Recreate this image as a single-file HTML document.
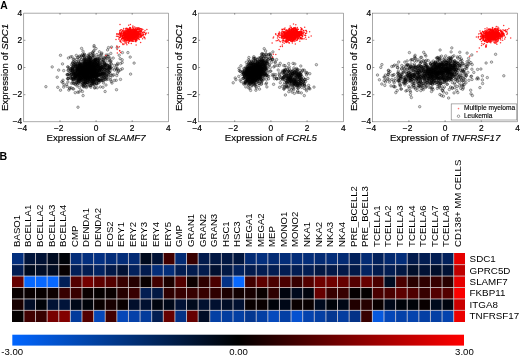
<!DOCTYPE html>
<html><head><meta charset="utf-8"><title>Figure</title><style>html,body{margin:0;padding:0;background:#fff}svg{display:block;opacity:0.999}</style></head><body>
<svg width="520" height="356" viewBox="0 0 520 356" font-family="Liberation Sans, Arial, sans-serif">
<defs><marker id="mo" markerWidth="5" markerHeight="5" refX="2.5" refY="2.5" markerUnits="userSpaceOnUse" overflow="visible"><circle cx="2.5" cy="2.5" r="1.25" fill="#000" fill-opacity="0.16" stroke="#000" stroke-opacity="0.52" stroke-width="0.65"/></marker><marker id="mr" markerWidth="4" markerHeight="4" refX="2" refY="2" markerUnits="userSpaceOnUse" overflow="visible"><circle cx="2" cy="2" r="0.75" fill="#ff0000" fill-opacity="0.8"/></marker><filter id="bl" x="-5%" y="-5%" width="110%" height="110%"><feGaussianBlur stdDeviation="0.55"/></filter></defs>
<rect width="520" height="356" fill="#fff"/>
<path d="M90.4 72.0L81.6 70.1L80.1 70.9L97.4 74.6L82.4 72.1L92.9 69.4L83.0 67.9L92.9 73.3L79.7 77.3L71.9 78.1L79.0 80.7L84.8 79.0L88.0 69.7L74.1 83.6L89.0 71.7L78.8 78.3L79.0 74.3L87.9 62.9L94.1 73.8L85.3 74.1L89.4 70.7L83.7 78.2L84.4 59.2L93.0 66.7L98.6 80.4L84.1 63.5L92.6 72.4L92.1 74.1L92.5 73.4L90.4 61.2L86.4 68.7L81.4 67.1L84.7 73.8L99.8 69.4L77.6 76.3L78.5 61.9L85.9 73.4L98.4 66.1L84.7 71.9L97.3 76.9L84.7 72.7L89.3 68.8L80.5 69.1L85.6 70.0L97.8 66.5L92.7 73.2L93.8 76.0L92.2 72.8L85.2 79.3L68.1 74.8L81.4 70.3L103.7 76.6L80.9 74.0L92.6 71.4L86.4 71.5L94.9 68.7L83.5 76.7L81.9 68.0L84.1 67.3L94.0 66.3L85.1 69.0L75.1 66.1L85.9 78.5L84.7 85.4L85.8 83.0L89.9 78.1L79.2 66.1L103.2 68.3L86.5 70.7L81.5 69.3L89.8 63.5L83.2 69.2L77.6 71.0L93.0 63.7L92.8 65.8L83.4 74.1L86.1 74.3L84.9 72.4L77.3 76.5L91.3 60.0L86.1 78.0L85.2 59.2L83.5 70.5L85.6 83.0L88.9 71.5L88.2 76.6L85.2 73.7L75.9 73.9L91.0 62.3L89.6 69.4L83.3 72.2L89.3 66.8L88.0 72.1L98.0 66.5L86.5 67.4L88.6 81.5L91.8 65.4L95.9 70.3L98.1 69.1L96.3 78.0L88.7 80.5L96.3 70.9L106.2 64.9L72.7 72.7L85.5 63.7L93.9 73.6L67.8 74.3L89.9 69.8L87.7 72.6L75.0 71.6L81.5 69.3L84.6 81.7L90.9 72.6L80.0 74.8L78.5 74.2L84.3 67.8L92.2 70.1L88.3 55.9L91.8 65.9L79.1 67.1L91.3 75.8L88.7 71.8L94.7 76.0L74.2 65.0L72.8 69.4L71.0 87.8L94.6 63.8L77.4 75.0L94.4 65.3L88.4 70.7L93.9 73.2L92.3 68.7L87.3 78.4L92.6 78.1L82.1 77.8L79.9 67.4L105.4 65.7L91.5 75.9L73.3 61.6L89.2 69.6L81.9 67.6L86.2 72.1L95.8 65.5L98.3 75.5L83.6 73.1L90.8 85.7L98.6 68.4L92.1 67.7L87.8 69.2L88.0 72.4L98.6 64.3L84.5 69.8L96.1 79.2L91.1 68.5L79.9 69.9L93.9 74.0L85.3 72.7L88.3 72.7L80.1 79.4L90.5 78.4L88.9 77.1L93.1 61.8L87.1 75.0L82.1 68.3L103.5 74.3L86.1 72.0L86.0 77.9L76.0 75.0L88.2 61.4L103.0 69.4L93.2 71.3L95.7 59.7L77.2 70.6L98.2 75.1L86.6 63.1L81.5 74.5L88.5 68.9L91.4 70.8L87.0 72.7L88.9 69.8L102.8 73.6L91.4 68.0L83.7 81.6L71.0 78.0L96.8 68.4L76.8 67.1L82.5 71.3L105.8 74.0L84.4 67.7L83.1 77.5L80.3 68.9L81.6 67.2L100.2 68.0L90.2 63.8L89.9 67.9L84.6 72.3L73.6 74.3L90.7 66.2L95.9 72.8L75.9 78.6L91.8 71.3L93.5 76.2L81.6 66.5L89.7 78.6L78.3 63.2L98.2 65.3L91.9 62.6L80.0 69.6L98.4 56.5L91.2 60.5L78.4 65.5L93.2 76.1L90.0 81.2L83.2 66.3L83.4 72.6L84.8 69.9L83.0 74.9L75.7 73.2L94.0 73.9L81.9 79.7L79.4 72.0L88.9 64.9L90.0 60.6L88.7 68.3L89.0 77.0L91.7 73.7L81.3 68.3L88.4 71.9L86.8 63.2L77.2 66.5L84.4 64.4L80.3 81.0L83.5 60.7L79.0 75.1L86.1 78.5L80.4 73.6L86.2 65.8L84.1 66.0L71.4 72.7L94.5 59.9L89.4 69.7L89.5 70.4L90.1 57.6L75.2 77.0L87.5 80.7L85.9 63.8L80.2 77.9L76.3 55.4L83.8 65.2L86.1 62.3L77.6 68.5L93.2 80.5L89.5 65.4L72.5 70.6L86.6 73.3L87.5 71.3L83.2 77.2L96.7 75.0L95.7 60.4L84.8 75.2L81.1 72.4L81.5 68.5L90.5 67.5L88.4 69.2L79.2 72.5L83.9 70.9L89.5 69.8L83.0 78.9L78.7 76.9L73.8 66.9L89.9 71.1L85.1 70.8L80.6 70.5L83.8 71.1L81.1 67.2L90.5 70.2L85.1 70.7L80.2 63.3L92.1 69.3L92.2 70.7L84.0 74.1L94.0 68.8L79.6 65.7L98.4 71.5L94.4 66.2L87.8 82.5L71.5 64.8L80.5 64.8L78.8 76.6L91.6 63.0L101.0 74.6L94.7 62.0L79.3 68.9L88.2 76.2L90.9 69.3L87.8 63.4L93.0 73.5L97.9 70.9L88.2 68.1L83.6 66.3L85.2 81.9L90.3 72.3L78.8 79.6L80.3 72.0L76.6 82.8L94.9 67.2L85.8 74.5L74.0 59.1L91.5 73.4L102.4 72.2L95.4 65.7L94.9 71.7L85.9 74.0L105.1 71.7L87.5 71.9L98.0 73.9L97.9 75.5L83.1 76.0L92.7 74.5L83.3 61.0L86.7 77.2L75.8 70.5L96.2 66.8L87.6 67.0L91.4 64.7L87.4 62.4L86.1 76.5L89.8 77.0L83.7 67.1L86.6 69.7L88.4 64.2L94.4 77.0L111.1 64.3L90.2 71.4L94.4 62.2L85.0 76.9L85.1 66.3L72.1 76.2L86.5 65.3L89.3 72.5L89.0 66.7L84.9 65.8L80.3 70.3L93.2 64.8L83.0 74.3L92.1 74.4L74.9 77.1L103.2 80.4L91.9 65.5L104.9 73.0L85.1 71.4L96.9 65.8L88.1 66.0L107.9 65.3L95.4 69.9L83.8 84.3L90.5 73.5L89.3 66.4L83.6 81.6L83.2 74.3L83.7 73.5L86.4 87.5L96.8 72.9L97.2 60.2L74.9 78.7L80.0 76.4L75.9 65.0L80.2 65.0L89.1 69.2L86.7 72.7L82.2 72.4L81.0 80.4L109.3 66.5L98.8 65.8L94.9 79.0L87.8 71.3L87.8 73.0L86.1 73.3L81.4 76.1L97.9 58.2L90.9 74.0L84.4 64.0L93.5 74.9L90.5 70.0L90.9 60.6L85.5 69.2L82.4 57.3L82.2 73.4L95.3 69.2L84.4 58.9L89.9 66.1L89.1 76.4L71.1 70.4L77.2 69.0L88.1 75.8L100.1 73.9L77.7 67.9L79.3 72.7L86.0 79.2L73.0 69.1L90.8 66.9L90.7 69.5L91.5 67.7L96.6 65.5L92.9 70.1L81.1 78.8L88.7 73.2L93.2 83.4L81.1 67.1L79.3 79.9L83.5 69.6L84.8 68.8L86.2 66.0L94.7 74.1L93.2 54.0L81.1 71.3L84.5 63.5L86.2 73.8L78.1 73.9L72.9 67.8L79.6 78.0L88.0 69.8L77.8 79.7L95.6 68.3L82.4 69.1L87.5 66.0L78.3 75.4L96.2 63.7L90.4 63.3L88.7 64.2L103.9 79.1L88.6 65.4L90.2 72.5L90.6 63.0L79.2 80.1L89.3 71.4L96.3 64.7L84.9 63.5L105.8 72.3L93.5 67.6L100.7 75.4L83.8 76.0L95.3 70.7L88.6 74.5L88.1 73.0L80.6 68.6L94.1 73.8L82.8 75.8L84.5 64.4L82.5 67.1L108.3 71.4L95.9 59.3L92.5 67.4L98.9 75.0L89.6 81.5L97.4 75.4L85.0 68.2L94.5 71.7L91.8 72.3L72.5 68.0L96.9 68.1L89.6 70.5L90.0 64.1L84.2 74.5L84.7 60.6L89.5 62.7L91.9 80.9L79.7 68.0L93.0 75.8L90.9 63.3L94.9 70.9L88.0 75.7L84.9 69.8L86.8 74.1L85.0 69.4L93.8 76.7L95.1 72.5L97.5 66.1L93.0 56.1L90.0 65.7L107.5 65.6L73.8 79.3L96.5 69.7L91.2 66.8L94.7 70.5L94.8 74.5L82.8 85.5L90.2 79.6L81.8 69.9L84.2 66.5L74.4 71.8L91.6 72.7L92.0 65.0L93.2 65.4L91.8 73.3L90.9 64.3L86.4 72.0L83.1 68.1L90.4 64.3L85.2 66.2L92.6 70.3L99.7 79.2L101.6 74.1L88.4 63.9L89.7 74.5L89.1 70.9L75.6 67.6L73.2 66.1L85.4 67.0L84.0 74.5L80.5 65.6L74.1 77.9L73.4 79.8L88.6 59.3L82.5 63.6L87.7 68.6L91.9 73.1L97.4 61.9L82.8 67.7L89.4 67.2L91.8 66.4L83.3 55.8L92.9 75.3L81.9 70.9L78.5 68.7L104.8 77.4L86.3 61.6L82.1 74.9L87.6 63.2L91.2 77.5L89.8 65.3L73.7 73.0L71.1 68.7L87.7 65.2L102.6 73.8L86.2 61.3L99.7 69.6L79.1 72.6L77.7 67.2L79.4 56.1L82.0 76.5L88.6 72.9L88.3 69.0L79.6 58.7L83.9 69.1L90.5 71.0L80.4 74.4L94.2 67.7L98.7 80.7L89.1 54.1L106.0 76.6L93.3 67.4L84.1 70.8L84.0 70.8L89.2 65.9L78.8 70.2L82.5 68.9L94.4 75.1L93.4 70.5L90.4 69.3L86.0 71.0L84.8 63.8L94.5 63.8L82.1 73.9L86.6 75.4L92.8 78.4L70.5 69.1L72.4 69.5L95.2 74.4L82.7 63.7L96.7 80.4L89.9 69.4L108.9 72.2L95.0 64.3L94.0 70.9L79.0 71.6L82.6 68.2L88.9 71.8L93.2 55.7L86.9 71.4L97.2 71.7L81.1 71.5L75.4 77.7L91.1 68.3L81.7 75.7L91.9 72.4L84.3 73.7L73.2 78.0L81.4 55.9L88.5 73.6L81.7 70.9L88.2 71.5L76.0 66.3L82.4 69.5L87.6 74.8L97.1 70.1L92.3 76.5L100.9 67.8L93.6 63.0L93.1 74.5L83.9 79.4L83.8 73.1L75.2 78.3L94.2 73.8L92.3 65.4L82.3 69.8L88.7 68.2L102.4 72.7L78.7 67.1L75.4 71.8L91.7 81.5L79.7 65.6L99.5 71.1L82.6 71.2L88.9 73.8L98.9 70.9L101.4 67.8L98.7 65.4L81.0 79.3L87.4 68.3L90.1 65.0L93.8 80.4L92.8 68.1L99.4 69.0L74.1 62.3L82.6 73.6L85.5 77.2L90.5 63.1L96.7 83.2L78.6 70.2L92.3 71.0L90.6 77.3L80.4 71.2L94.3 72.3L87.9 75.6L106.3 79.7L94.4 79.0L87.5 71.1L97.4 69.7L96.1 65.0L82.4 73.0L94.5 70.0L97.3 64.5L102.9 69.5L79.6 66.0L74.1 73.6L89.9 59.9L97.6 65.9L102.4 64.4L86.8 71.1L90.0 71.2L86.0 74.0L84.5 57.3L83.8 67.1L94.7 72.5L93.2 73.7L88.8 83.1L89.9 76.3L72.6 62.8L86.7 76.0L97.1 63.3L80.5 65.7L106.4 68.3L87.2 70.4L87.2 82.7L104.8 58.1L97.5 65.6L92.9 80.4L81.8 77.4L95.4 72.1L92.8 69.9L76.9 71.7L84.2 68.8L74.7 74.8L74.4 68.6L72.1 74.0L91.9 71.3L87.5 55.7L91.5 77.5L85.5 71.4L93.7 60.7L75.0 73.8L91.9 70.1L76.2 76.0L94.6 69.8L89.7 76.5L79.5 62.9L89.8 74.1L72.2 68.3L92.1 74.9L81.2 56.1L92.6 53.4L100.6 69.3L93.7 66.1L87.5 79.4L69.1 68.0L105.3 57.4L90.5 58.4L105.1 67.5L95.1 62.4L82.2 77.3L68.0 78.6L82.5 67.8L87.1 71.8L105.2 64.1L96.1 74.8L83.0 74.5L84.4 62.5L78.8 69.0L99.6 75.1L86.7 76.0L77.2 72.9L92.5 82.2L101.9 59.4L90.0 77.1L92.2 75.3L91.6 70.3L87.4 66.1L75.7 68.5L77.4 69.6L81.7 69.2L91.9 71.9L77.1 76.7L89.2 78.5L101.4 64.1L96.4 77.3L91.6 83.8L67.7 66.9L110.2 60.9L85.1 77.4L88.2 72.6L77.7 77.5L92.0 69.2L94.2 64.7L94.1 56.0L77.3 64.3L91.7 81.9L87.8 77.9L81.5 68.5L83.7 71.6L91.3 76.0L87.6 65.9L86.4 77.0L94.7 74.6L105.5 58.7L87.2 70.9L78.9 73.3L81.6 75.6L91.5 75.6L85.5 72.8L93.8 82.6L102.2 73.4L101.6 70.9L92.1 74.6L92.3 52.6L104.6 69.4L95.3 71.0L89.7 62.1L84.6 66.3L81.4 73.2L88.8 72.4L81.2 64.4L104.9 63.2L89.4 66.0L91.7 73.2L79.2 63.9L111.1 75.4L86.9 84.6L89.4 68.7L86.8 59.9L98.9 74.5L84.9 71.1L86.1 69.2L89.4 59.6L84.1 62.5L90.8 67.0L77.0 85.9L80.8 76.0L88.0 59.1L93.3 81.4L99.3 75.0L84.1 66.7L96.4 75.1L92.7 65.8L88.0 70.5L98.7 80.1L81.0 67.8L91.2 76.0L90.5 67.1L85.7 75.0L72.4 76.9L88.9 65.2L98.3 72.6L91.5 67.5L102.4 60.9L91.8 75.3L84.6 66.3L87.7 70.2L78.6 81.9L84.3 71.5L78.8 79.5L89.0 71.7L87.6 79.5L81.6 77.5L89.7 61.6L93.4 77.2L84.8 72.5L96.5 72.9L73.2 81.3L76.8 73.7L79.1 73.6L84.0 66.8L91.7 71.6L86.1 75.7L97.9 62.7L85.2 74.6L86.2 77.2L86.9 63.9L94.9 75.6L87.5 74.5L78.6 74.6L100.3 80.2L83.3 71.9L85.0 73.8L92.6 68.0L98.8 60.3L96.6 63.9L81.8 63.7L87.5 71.7L73.6 66.4L89.8 65.1L85.0 72.9L90.1 73.6L77.0 75.6L90.7 69.9L83.2 71.6L84.5 75.6L86.8 61.6L100.6 65.1L91.6 75.9L71.0 74.4L80.3 77.2L83.8 71.5L75.2 64.5L81.5 64.4L83.0 73.7L74.7 73.7L84.1 76.7L94.7 69.5L79.1 74.4L87.4 77.6L87.7 86.0L81.4 71.6L96.6 72.2L96.8 72.2L97.0 73.9L93.3 63.9L95.8 63.6L82.9 68.0L92.3 75.0L87.0 80.3L91.8 70.0L78.3 83.1L86.4 65.4L73.6 63.9L87.1 65.5L80.4 61.1L90.0 66.6L86.0 64.0L100.3 81.0L80.4 73.8L80.7 69.8L104.8 69.4L74.3 70.2L100.7 67.8L99.5 69.8L83.7 75.5L73.4 74.8L88.4 63.8L98.9 58.7L90.9 77.0L99.5 62.5L85.6 79.0L91.3 62.1L91.7 78.3L82.0 67.2L82.0 71.1L90.5 69.8L98.1 66.7L84.4 81.0L95.3 67.4L89.4 63.8L90.4 79.1L70.0 71.0L88.3 63.4L78.2 68.9L75.3 75.2L89.3 74.2L83.4 86.1L76.5 74.7L91.0 67.2L93.8 84.9L86.4 76.6L98.5 74.0L93.0 76.5L92.5 78.5L82.9 74.4L98.8 61.5L103.5 76.9L84.8 66.8L84.1 63.7L101.2 68.3L82.0 72.6L89.4 70.2L87.9 78.2L76.9 81.3L85.0 72.6L81.9 65.9L89.9 67.4L76.9 70.9L85.7 78.8L84.7 76.7L99.8 68.2L93.4 61.6L90.4 80.1L97.1 72.6L96.3 74.5L96.8 68.5L93.3 69.5L91.0 70.5L89.5 64.2L95.3 61.2L92.2 65.4L100.6 78.3L78.9 69.2L83.4 74.2L99.2 59.7L86.1 63.1L94.4 71.1L91.8 59.1L93.1 68.6L84.0 76.8L72.4 66.0L94.6 69.3L78.0 69.8L96.6 63.7L102.0 69.5L91.5 76.4L87.1 72.3L88.1 71.6L94.1 65.3L86.1 71.2L84.2 66.7L86.0 73.8L85.3 74.0L98.8 80.2L97.2 65.0L102.4 77.7L89.3 69.1L91.8 70.3L94.5 63.2L91.9 56.9L85.1 64.4L94.2 60.1L94.2 74.1L86.8 61.0L78.0 69.1L88.4 70.1L82.6 71.1L82.0 71.2L100.6 72.5L79.4 81.6L89.9 74.9L83.4 76.0L88.5 78.9L87.9 70.1L88.5 68.4L85.6 81.5L88.8 69.1L100.6 69.1L78.7 75.0L104.4 66.6L77.7 71.9L82.5 73.3L81.8 80.1L75.2 74.8L88.1 64.1L92.3 73.3L89.9 65.7L83.4 68.6L100.3 63.3L83.8 77.3L94.7 68.5L105.3 64.8L85.6 73.9L84.6 79.0L106.6 78.0L75.4 64.7L86.3 75.2L77.5 75.7L89.1 74.2L82.1 69.5L88.4 65.2L77.4 70.0L89.3 77.4L81.0 80.0L89.2 66.1L82.3 66.6L101.3 67.0L78.2 64.9L90.3 79.7L97.8 62.4L90.0 62.5L87.7 72.2L80.5 64.4L101.1 69.7L74.8 73.7L85.8 67.3L83.5 86.7L86.1 68.9L98.6 59.8L85.9 75.6L79.1 74.8L86.6 67.4L97.3 78.4L97.4 68.6L93.9 69.6L94.7 63.0L90.4 58.1L78.5 68.7L90.4 74.5L90.5 61.2L86.2 70.1L77.6 71.9L77.6 65.9L89.1 70.6L79.1 71.9L94.6 84.2L92.7 83.0L88.8 66.8L90.2 80.6L90.0 58.9L94.0 75.8L102.9 75.0L89.5 75.9L96.6 84.1L71.1 68.9L87.1 71.5L94.6 59.5L92.3 72.9L95.0 62.1L96.4 66.8L87.7 73.0L82.7 68.4L84.8 60.5L99.7 67.3L83.2 69.5L90.6 73.7L93.6 67.8L89.2 64.0L79.4 65.4L92.8 67.3L94.2 76.8L73.3 59.3L79.3 66.8L109.2 72.3L86.7 74.2L89.7 73.5L99.6 71.2L94.4 81.1L86.3 77.1L98.1 66.7L79.9 74.4L86.2 73.6L85.1 61.1L94.5 70.3L93.9 69.4L98.2 64.1L95.9 68.0L84.0 55.8L92.4 63.3L81.0 70.0L77.9 80.5L88.7 76.4L91.4 83.4L88.1 68.9L80.4 72.9L80.1 75.9L87.4 70.6L80.7 78.3L85.7 76.6L100.6 62.5L76.7 68.3L71.5 74.2L86.7 64.9L84.8 69.0L97.9 74.6L83.3 74.0L90.7 78.1L76.8 73.6L73.4 74.9L107.1 75.8L90.3 79.4L82.5 66.6L85.8 72.0L98.0 80.5L82.7 82.8L86.2 67.7L94.8 72.8L91.9 71.5L78.4 61.5L109.6 69.4L99.3 68.6L81.6 78.7L81.2 74.0L87.5 63.5L75.6 66.5L88.4 72.3L80.8 73.0L88.9 57.2L78.7 74.7L107.3 70.4L85.3 67.3L93.5 76.6L93.9 80.3L95.1 63.5L96.1 69.7L88.5 59.5L91.2 63.5L85.8 75.7L81.2 69.5L75.5 77.4L107.5 68.6L99.0 70.9L85.8 73.8L82.8 66.5L84.8 76.9L80.3 69.9L88.5 68.2L92.9 65.4L88.0 73.2L83.5 70.2L91.6 75.5L99.6 71.2L78.6 79.5L87.8 73.9L83.2 72.2L93.1 67.3L92.1 81.4L89.1 64.0L87.4 64.4L92.0 64.3L82.6 74.6L86.4 76.0L89.5 70.3L62.5 63.9L76.7 65.2L96.9 73.0L87.2 68.5L86.9 71.8L82.4 72.5L92.2 79.7L94.6 73.9L87.9 72.7L90.8 73.4L93.6 67.2L80.6 72.7L93.9 61.1L96.7 76.9L96.7 66.6L102.0 80.0L93.7 70.5L78.6 68.1L85.4 79.7L88.7 68.3L74.1 73.6L77.7 68.8L99.8 69.4L106.4 57.9L80.3 72.0L69.7 88.7L94.0 74.9L95.0 69.4L93.7 71.8L87.9 60.1L77.6 69.8L103.9 65.8L84.0 63.6L87.7 69.5L87.6 70.2L88.2 67.1L93.8 67.1L86.5 72.5L91.9 75.9L89.2 73.5L77.2 69.1L85.6 63.1L94.2 68.6L75.2 77.7L81.0 71.7L101.6 58.0L92.4 67.0L95.3 66.2L101.5 66.2L84.7 75.0L105.2 75.5L87.7 70.1L100.6 74.8L68.4 58.0L93.5 66.9L105.1 91.5L95.5 77.0L76.8 82.7L103.2 67.4L93.9 76.3L102.1 80.2L89.6 64.4L63.0 80.2L80.6 65.1L68.1 67.0L79.6 79.6L87.7 71.9L87.0 72.0L116.2 80.3L114.3 80.5L91.3 71.7L108.0 54.9L80.8 76.7L58.7 70.1L99.8 55.8L83.8 71.5L85.6 82.7L105.1 72.8L102.1 66.7L117.2 68.3L85.5 75.8L100.4 86.9L105.6 69.6L95.8 75.5L81.0 78.2L91.8 71.3L86.7 79.5L75.1 76.0L89.9 72.1L78.7 67.9L77.9 75.3L80.5 76.6L76.9 80.2L108.5 47.6L98.9 80.1L100.6 76.0L62.9 82.5L107.7 56.6L83.8 55.3L120.5 79.4L93.7 74.1L112.0 83.1L75.4 62.8L107.6 49.9L83.0 51.2L88.1 75.6L74.9 75.4L94.5 62.3L110.7 80.0L69.5 87.9L97.3 64.7L120.6 69.7L101.8 71.4L83.5 64.1L94.6 64.6L92.2 82.9L95.8 79.3L75.9 75.6L101.1 80.6L96.0 77.4L84.3 77.0L95.8 59.3L87.3 80.4L79.9 81.4L95.1 68.3L104.4 69.1L83.6 59.7L75.5 83.5L72.6 82.8L81.4 67.9L71.9 56.7L97.4 81.2L78.9 83.2L116.5 89.7L74.2 72.6L75.6 70.1L71.6 83.4L85.7 82.9L89.2 61.6L96.5 83.2L88.9 75.1L99.2 62.6L107.9 79.2L93.6 51.4L109.2 59.2L80.2 71.2L109.4 64.9L84.9 66.8L108.1 74.8L72.2 70.7L91.8 78.0L86.4 73.4L90.4 85.7L91.8 73.2L104.3 62.1L94.5 74.3L97.0 83.8L89.8 67.9L81.2 65.9L117.3 73.2L86.0 69.8L61.8 81.8L97.3 59.7L112.8 75.6L57.8 87.3L79.4 72.4L67.9 82.0L84.2 86.8L99.4 51.8L70.5 78.1L88.2 71.7L90.0 55.9L80.5 72.4L80.3 66.7L80.8 69.7L103.0 59.6L68.8 90.1L87.6 64.3L76.0 73.7L108.6 56.6L112.4 68.7L87.4 77.1L60.5 55.3L77.6 71.7L107.6 69.4L108.9 67.5L110.1 68.2L101.6 76.7L119.0 70.7L86.1 74.0L72.3 71.3L91.7 64.3L94.1 45.6L78.9 81.1L103.8 60.6L120.5 63.6L82.4 76.0L91.6 61.3L102.9 62.1L104.1 73.6L93.3 81.3L72.7 88.6L75.2 92.7L92.9 83.7L107.5 60.8L92.6 84.8L83.0 85.0L87.9 69.6L97.2 87.8L68.3 78.7L104.4 75.3L122.3 68.8L87.8 77.4L109.7 67.0L75.2 84.5L90.0 57.9L86.1 74.2L110.3 77.7L109.8 66.4L92.4 67.3L83.8 73.6L96.3 79.7L122.2 59.8L108.4 69.1L104.1 77.9L106.5 64.2L95.2 76.6L87.5 76.3L104.4 63.9L73.6 89.0L68.3 70.0L79.3 87.4L66.5 84.5L96.8 71.1L84.4 75.1L85.5 61.2L108.2 73.4L77.5 72.0L86.0 86.3L75.5 75.5L79.0 92.1L91.3 74.7L116.6 65.1L81.5 82.4L95.0 60.3L73.2 71.4L102.2 66.2L84.0 83.0L95.6 60.4L80.8 90.1L134.1 63.1L105.5 65.2L85.6 76.6L99.7 65.3L104.3 64.9L81.6 48.4L87.8 82.7L107.4 67.3L117.4 64.8L95.1 60.1L102.8 73.7L116.7 70.0L94.4 72.3L82.5 83.5L77.3 76.9L106.0 85.0L102.9 57.2L73.5 79.6L85.5 79.4L101.3 73.2L77.8 75.7L97.3 71.9L83.1 72.9L90.6 53.7L88.9 73.0L66.9 74.6L89.5 67.0L109.7 68.2L111.5 47.1L110.8 53.4L109.1 72.2L92.7 68.1L72.4 63.4L81.6 67.7L94.6 62.2L93.4 75.5L93.7 71.0L87.0 69.9L103.5 72.8L94.6 88.1L89.0 56.3L130.2 57.1L95.0 87.4L78.0 107.2L63.7 70.6L82.4 79.2L93.9 79.9L89.9 84.6L88.6 62.5L108.3 66.0L99.3 81.6L75.5 77.1L111.1 61.0L106.2 70.4L96.1 76.7L85.1 82.8L80.3 78.4L85.3 81.0L106.3 75.7L78.6 68.9L57.2 77.2L90.5 74.5L87.5 74.2L67.6 75.0L107.2 70.2L73.2 78.7L86.8 61.5L98.8 70.5L111.3 81.5L89.8 85.6L104.2 72.4L83.6 76.8L103.5 82.9L103.4 80.8L85.8 70.9L78.3 57.1L81.5 70.9L91.7 73.6L72.7 70.5L100.9 55.0L79.2 68.3L94.9 83.1L94.0 50.6L98.8 82.8L90.3 76.2L130.6 74.1L110.0 58.2L94.4 72.7L84.5 69.1L120.1 58.7L110.8 74.0L99.7 68.3L105.4 79.4L84.2 54.1L116.7 75.5L84.6 69.1L94.1 82.2L85.2 83.6L110.3 67.5L88.5 65.6L84.6 75.8L80.1 77.2L90.8 87.2L106.2 55.0L111.3 63.7L96.7 73.9L88.1 58.6L117.2 47.6L63.7 87.1L87.4 66.2L77.8 92.2L92.3 73.2L84.1 74.1L86.9 78.8L96.1 76.2L101.3 67.6L101.9 78.3L73.7 83.2L101.6 54.1L97.8 62.6L90.6 69.4L94.0 76.4L77.6 57.6L119.2 55.2L94.0 81.5L94.1 46.9L82.4 54.4L85.0 74.5L81.9 70.2L74.6 76.5L89.1 71.1L69.9 75.1L108.8 68.7L92.3 77.9L103.3 75.2L92.4 66.5L79.8 78.2L67.1 86.3L45.9 86.7L89.4 78.2L127.9 52.6L76.7 59.3L96.0 48.6L90.2 64.6L122.4 52.6L91.7 64.2L98.9 79.8L75.7 73.1L77.8 68.5L78.7 79.1L118.4 71.3L70.6 75.8L93.9 75.0L91.6 71.3L101.1 73.7L63.9 84.8L108.5 76.0L96.1 61.3L84.3 78.1L93.6 73.7L96.8 54.6L70.5 56.9L102.4 66.9L82.9 79.1L115.7 68.1L88.5 69.6L86.4 63.7L77.7 76.0L93.5 73.2L79.0 68.8L88.3 68.6L105.8 78.7L99.2 59.0L75.7 63.5L85.5 65.7L69.0 73.7L100.9 68.3L97.3 79.0L79.2 67.6L84.5 54.4L97.1 70.6L99.9 74.5L86.8 74.1L67.5 78.7L87.0 76.6L110.1 62.0L96.0 58.8L81.0 59.6L77.3 70.7L87.8 71.5L77.7 69.5L97.5 62.9L60.5 90.2L100.0 74.3L101.8 53.0L89.3 69.7L52.2 66.9L95.8 57.8L81.7 72.9L86.4 74.8L68.3 78.2L79.3 65.1L77.9 74.4L76.0 61.5L86.4 75.5L105.0 67.7L104.2 63.2L103.0 87.2L87.4 67.0L96.6 79.0L81.3 84.9L114.6 70.1L85.5 64.4L76.3 78.0L111.3 67.5L104.4 66.2L113.2 58.1L85.2 76.8L92.9 80.9L114.4 65.5L70.8 72.3L89.4 59.8L85.7 58.6L89.3 77.8L87.7 82.1L113.6 74.7L89.3 73.5L95.9 73.6L77.3 84.2L92.5 57.7L72.3 78.9L117.7 63.3L84.5 75.4L82.4 91.5L88.1 80.3L76.4 81.0L83.9 82.9L117.1 69.1L106.6 74.1L68.1 70.5L95.9 80.3L98.3 75.2L72.1 79.3L88.9 77.4L122.2 62.5L103.3 60.9L96.5 77.5L86.1 57.8L110.2 70.9L99.7 74.5L93.7 64.6L83.1 95.6L92.1 70.9L94.4 72.0L89.4 62.0" fill="none" stroke="none" filter="url(#bl)" marker-start="url(#mo)" marker-mid="url(#mo)" marker-end="url(#mo)"/>
<path d="M133.6 34.6L130.8 34.5L130.5 31.7L130.8 34.3L132.6 37.7L136.8 36.7L130.9 37.2L136.2 32.7L130.6 40.6L122.1 37.1L130.1 31.6L131.4 36.7L120.9 41.0L130.4 32.3L136.7 33.6L125.7 28.5L135.7 33.7L127.4 35.5L136.7 32.0L129.8 33.7L123.7 33.5L128.4 34.5L136.9 33.7L130.4 36.3L131.6 37.4L120.0 30.8L132.5 33.2L130.5 30.9L128.6 35.2L132.0 34.2L135.3 31.5L134.0 32.3L128.8 31.9L129.7 31.9L135.0 31.8L131.9 34.0L129.3 32.3L141.2 31.1L137.2 29.3L142.7 35.0L137.6 27.8L137.6 32.7L136.2 39.3L131.9 32.5L130.7 31.9L132.9 34.3L132.5 33.3L120.5 36.5L130.8 36.9L133.0 29.6L138.1 35.9L132.1 35.9L123.9 44.4L128.1 33.3L137.7 35.1L126.5 30.8L138.0 38.1L123.8 31.8L135.7 40.7L123.6 37.5L125.1 36.5L133.6 35.6L121.3 32.8L143.5 34.5L122.2 38.4L138.1 32.9L131.7 35.0L133.9 35.1L132.9 33.3L135.6 34.5L130.0 30.9L129.2 35.7L127.6 34.4L124.6 34.9L119.7 33.5L131.8 36.0L125.7 34.6L133.5 39.0L140.1 31.3L125.8 33.6L136.3 30.1L133.3 33.0L129.9 37.7L136.9 40.0L138.2 38.7L128.6 35.3L125.7 35.1L133.8 33.0L132.2 32.6L130.7 38.1L130.9 34.7L131.4 31.8L122.5 38.3L135.9 40.8L132.3 35.9L141.9 31.0L128.9 37.8L134.2 37.1L129.0 40.3L130.0 28.8L130.1 33.6L133.3 38.0L130.6 33.6L135.9 32.4L123.0 33.5L140.6 35.4L138.0 29.5L126.8 33.7L137.2 37.0L130.4 34.7L135.3 33.2L127.3 35.1L139.3 39.5L132.1 34.0L132.9 35.7L133.6 31.8L131.1 34.4L136.9 35.3L131.5 38.0L138.0 34.0L124.4 36.0L123.5 37.3L134.5 38.4L132.1 29.9L128.3 33.2L127.3 35.9L131.9 34.2L126.8 34.5L128.2 35.1L135.4 34.5L134.6 30.6L142.3 32.5L118.9 39.2L137.0 33.3L124.4 37.1L127.6 35.4L128.7 25.3L131.3 36.5L133.0 33.1L127.8 33.2L132.2 39.2L128.6 36.5L134.5 38.7L135.0 36.1L133.1 39.0L130.6 34.6L137.7 35.1L134.3 31.0L144.7 32.3L140.3 33.8L127.4 37.8L131.4 37.5L119.6 34.9L126.9 40.2L135.3 30.2L132.4 35.3L130.9 38.9L126.9 35.9L129.4 37.4L129.2 37.6L124.4 32.9L125.5 34.6L131.3 43.5L127.0 36.8L130.9 35.8L139.0 34.4L125.6 31.7L135.5 36.6L124.6 39.4L120.0 37.6L134.3 30.8L124.0 41.3L123.2 37.8L123.7 38.0L138.6 31.2L123.3 30.1L121.0 35.3L132.9 36.0L133.7 36.8L135.9 41.8L130.1 35.2L116.5 36.3L132.7 32.6L138.2 34.9L138.8 28.1L129.5 39.1L130.0 32.0L127.9 34.4L136.4 35.5L129.2 32.3L136.9 36.9L126.2 39.1L125.0 35.7L124.0 31.1L126.3 33.6L136.7 35.6L125.5 31.3L120.5 30.1L129.1 34.7L125.7 36.2L132.7 37.8L127.2 39.3L130.2 39.6L126.6 39.3L128.7 40.6L131.7 30.9L135.1 33.5L136.6 40.8L128.8 34.0L136.0 31.7L136.5 36.6L131.9 36.8L121.1 42.5L125.8 33.0L143.7 37.1L128.7 37.0L127.4 32.1L134.4 37.4L145.0 30.4L135.4 32.7L131.6 39.1L120.5 34.2L128.1 39.4L133.9 35.9L134.7 37.5L128.4 34.8L129.8 36.8L124.0 36.1L146.2 32.9L130.0 32.0L132.9 35.1L133.6 32.0L134.2 36.0L134.1 32.2L136.1 38.9L128.7 37.7L128.6 34.3L123.3 33.5L134.2 34.5L135.5 28.2L126.8 31.5L135.4 40.3L122.8 36.7L130.2 34.9L126.9 34.2L137.9 29.5L134.4 35.5L120.7 34.6L135.3 39.7L129.4 33.5L133.1 38.3L136.8 37.3L128.7 32.8L126.6 38.4L129.0 33.6L133.9 34.6L119.6 37.2L126.9 37.3L133.1 39.8L129.5 31.4L118.3 34.4L127.3 35.7L134.4 34.5L128.8 38.0L127.4 39.0L141.7 35.3L141.6 36.5L125.3 37.0L128.3 31.8L125.1 38.1L123.5 35.6L130.4 33.6L139.5 35.1L130.7 32.9L133.1 34.7L124.0 32.2L125.2 32.3L133.5 35.2L129.7 36.2L131.4 29.4L133.3 37.3L125.9 30.3L128.9 31.4L133.9 35.6L134.8 34.3L122.9 40.7L123.8 40.0L131.1 32.1L127.3 34.9L139.2 31.5L132.9 26.0L131.8 34.0L137.7 34.6L136.4 30.2L131.6 32.9L135.3 35.3L125.5 39.4L139.9 31.2L137.6 34.5L127.3 38.5L127.3 38.0L121.4 33.1L133.7 34.8L135.1 33.1L126.9 40.6L128.0 39.9L137.9 38.8L119.9 37.6L130.6 37.1L128.2 42.4L127.9 28.6L133.0 34.3L128.6 38.1L129.6 32.1L129.5 34.1L132.4 33.5L128.7 30.7L127.5 36.6L142.9 29.4L128.3 38.5L143.0 35.3L127.6 39.2L133.1 33.6L124.6 36.6L132.3 36.3L121.0 34.1L133.4 38.7L134.4 32.1L133.6 31.3L128.7 34.5L126.9 34.3L135.9 34.6L120.3 41.6L132.0 31.1L132.9 37.0L137.2 31.5L123.7 32.3L129.3 31.9L136.2 32.9L134.3 33.4L125.6 32.8L134.5 29.8L134.9 37.1L133.9 38.8L130.6 34.0L131.3 33.0L132.6 34.4L138.5 32.7L136.1 35.0L131.2 34.2L141.7 37.0L131.9 33.1L127.9 32.8L123.5 35.2L132.5 37.8L136.6 34.9L129.3 34.6L131.2 35.3L127.4 35.1L129.0 34.4L135.2 37.0L127.8 34.3L132.7 35.7L120.0 40.2L131.8 33.8L136.9 32.9L120.3 34.7L126.9 34.0L129.1 32.3L132.4 35.8L129.2 32.4L128.3 33.4L140.0 28.6L116.9 34.3L133.8 36.8L130.9 38.1L127.9 37.4L124.1 32.3L141.3 31.2L136.6 37.9L134.5 34.6L127.6 40.7L122.7 30.5L127.1 34.1L132.6 38.2L127.7 34.5L123.7 28.5L126.6 34.6L124.6 40.9L137.5 34.3L133.5 31.9L130.3 29.4L122.0 34.8L132.2 32.5L128.2 39.0L128.2 33.3L127.7 30.6L125.7 38.9L131.5 37.4L129.1 38.2L125.6 35.0L126.1 36.6L136.2 27.7L130.0 30.7L127.8 33.5L120.9 36.4L125.6 41.1L126.7 36.8L131.7 34.6L126.9 30.6L140.7 32.1L133.2 30.5L132.6 32.9L132.2 32.4L126.2 37.4L132.6 39.0L128.2 32.8L132.4 30.9L144.4 37.3L138.9 34.3L131.0 35.1L130.4 32.7L135.2 37.8L134.7 27.0L143.6 32.1L122.7 35.5L135.3 33.7L124.8 32.6L134.7 31.4L128.2 32.0L124.1 37.8L138.1 31.7L120.7 35.4L126.5 28.3L135.2 30.8L133.9 33.9L128.5 30.6L136.6 35.1L138.7 31.2L132.8 33.0L137.1 34.4L125.8 36.8L127.0 34.2L135.0 38.8L125.6 35.7L128.5 42.0L142.6 38.7L134.2 30.6L128.1 35.7L129.3 32.8L132.0 33.3L133.2 41.3L131.2 30.4L133.3 34.7L134.8 35.4L125.4 37.2L140.6 42.4L136.7 39.7L139.5 30.0L129.9 41.3L125.9 34.7L134.1 31.6L141.2 36.0L140.0 36.0L128.2 39.9L138.3 36.0L130.4 36.1L127.4 38.1L138.4 34.5L132.1 37.6L127.1 30.0L134.0 33.9L124.8 38.6L137.0 36.8L128.3 34.0L131.8 34.5L123.2 34.2L138.5 32.9L129.6 33.0L133.2 36.4L136.0 39.4L132.1 36.6L130.1 38.5L134.8 37.1L135.8 31.4L133.0 33.0L137.0 33.1L140.7 33.9L133.1 32.5L130.5 35.7L126.6 35.5L127.4 33.5L132.0 35.7L130.1 36.6L127.7 32.3L127.3 37.2L138.1 33.3L130.4 31.6L133.6 35.0L128.1 37.3L129.8 29.8L122.6 35.2L131.2 38.1L128.3 35.5L130.8 36.7L131.6 35.4L127.7 31.3L131.6 40.2L138.5 38.1L134.7 32.2L130.0 37.2L130.9 37.5L140.6 37.0L133.9 29.6L136.7 29.5L124.6 37.3L132.4 36.6L130.6 33.0L129.9 32.1L124.6 35.6L129.7 35.6L131.0 38.6L128.9 34.9L132.9 27.6L137.6 36.1L132.5 40.9L137.5 38.2L136.6 34.0L128.2 32.2L125.5 32.7L128.9 37.1L126.2 37.9L132.5 29.7L126.9 35.4L126.2 33.5L138.6 33.3L137.4 32.9L133.0 30.1L129.7 38.0L133.1 38.4L130.4 33.4L132.6 40.8L132.4 33.0L128.2 32.0L137.4 31.6L134.5 33.5L128.3 33.5L134.1 33.6L139.4 37.3L128.5 35.9L141.0 35.1L129.2 30.5L124.8 34.1L140.9 32.7L128.3 34.5L129.5 36.2L120.1 33.2L133.2 37.6L121.3 39.4L122.5 31.1L135.9 32.8L132.5 33.0L127.1 29.8L128.3 35.8L125.8 37.3L130.3 28.0L136.3 35.2L132.6 38.0L141.0 29.0L136.2 35.4L134.7 37.2L136.8 33.0L117.8 36.2L129.5 40.3L133.1 38.3L127.6 36.7L131.3 35.2L136.5 38.5L130.2 39.7L138.0 34.1L134.7 33.2L125.7 35.6L130.3 35.1L129.4 41.4L130.7 38.1L137.8 33.2L132.6 32.7L128.7 43.2L129.1 29.2L124.9 32.0L132.8 39.2L136.3 31.3L127.3 38.4L132.4 33.8L141.0 33.5L119.9 30.9L129.5 29.5L135.2 36.5L141.8 29.1L130.2 27.7L129.4 34.9L138.8 28.1L133.5 34.9L141.7 29.2L127.0 38.1L130.3 33.9L126.2 36.0L122.6 38.0L135.2 35.4L145.8 33.7L125.7 35.6L135.2 32.8L142.3 32.9L127.6 33.7L134.2 31.2L122.1 38.8L129.6 40.4L140.8 30.4L130.8 34.4L134.8 35.0L124.7 31.1L134.7 39.4L123.8 35.0L127.5 35.4L119.0 38.0L131.1 41.0L135.3 36.1L131.0 33.9L132.9 28.9L137.5 34.7L131.8 38.9L127.5 33.9L130.3 29.0L130.5 34.2L138.6 38.4L135.1 35.0L132.7 32.1L145.4 34.8L139.1 28.5L135.0 35.6L135.9 30.8L133.2 33.7L140.4 28.7L128.5 33.9L125.1 37.2L131.2 32.6L129.4 36.2L131.8 36.4L126.3 33.2L128.7 29.5L139.7 33.4L122.9 38.5L137.8 28.7L130.1 39.1L128.6 39.0L138.6 33.5L135.3 37.4L134.6 37.3L131.0 35.1L128.0 37.3L140.1 36.8L130.5 30.2L127.7 38.0L127.9 39.6L126.5 37.4L126.4 34.2L132.3 33.6L137.0 33.6L120.0 24.6L127.5 35.7L135.2 30.4L141.1 34.9L131.0 38.9L121.7 33.9L135.0 35.7L140.1 37.1L128.1 33.7L129.1 34.6L133.8 33.1L139.0 32.8L121.7 33.2L134.2 35.2L121.6 31.7L139.8 34.0L128.4 31.7L134.8 31.9L129.6 27.6L129.2 35.9L131.6 31.4L129.2 39.0L132.0 39.1L137.0 37.6L139.2 35.0L135.7 32.0L127.4 36.7L136.1 31.0L144.6 37.6L126.6 34.0L126.4 36.9L138.6 34.6L129.3 37.9L136.9 38.0L136.3 30.8L130.5 38.9L137.7 35.0L130.0 39.1L135.1 40.9L137.3 31.9L128.1 39.5L134.3 31.5L134.1 35.9L128.3 35.1L124.3 34.2L134.5 34.4L133.4 38.7L135.1 30.7L138.3 29.8L130.0 35.7L127.8 34.3L125.4 37.8L132.8 35.3L120.1 34.8L136.6 34.6L135.0 33.9L127.0 28.6L139.5 29.4L129.9 37.5L132.7 36.1L129.6 32.1L137.5 29.0L131.2 30.1L127.4 31.9L126.8 32.6L132.1 37.4L126.7 33.8L122.9 43.6L130.8 31.6L138.1 33.8L118.1 33.8L133.9 29.6L123.9 34.3L128.9 34.7L136.5 35.2L127.1 35.5L121.9 38.4L144.3 32.5L129.2 34.2L131.9 37.4L124.2 38.9L127.8 36.7L135.5 29.1L145.5 33.8L129.4 36.5L127.3 36.2L130.6 28.0L132.5 35.0L137.8 35.5L127.0 34.2L132.1 36.9L129.8 40.7L133.3 35.1L135.4 33.3L135.7 36.2L120.6 35.3L124.7 36.4L125.0 34.0L121.5 29.8L131.9 33.8L136.1 44.9L138.4 32.9L128.5 37.4L123.3 32.8L131.3 30.2L121.2 36.0L134.2 29.3L132.4 35.7L131.1 36.6L124.3 34.1L123.8 34.9L135.4 34.2L126.9 37.2L116.0 39.6L132.5 30.7L127.1 36.0L131.6 33.3L125.6 33.8L132.0 33.2L125.5 33.8L148.4 33.1L135.4 34.4L128.8 32.5L127.9 36.1L128.5 29.8L133.8 33.1L122.3 36.0L141.2 30.9L133.2 34.6L124.8 35.0L131.2 31.9L128.6 35.2L129.1 34.5L133.4 35.7L132.1 37.6L135.8 29.4L132.3 34.6L131.7 34.6L130.8 34.7L133.9 31.0L133.2 30.9L142.5 35.2L126.0 36.7L134.0 32.8L136.4 33.2L143.2 33.0L133.7 32.4L127.5 38.5L123.3 38.8L145.0 38.8L123.0 37.3L135.4 36.1L134.9 29.4L129.0 29.6L135.2 41.3L127.0 37.1L130.1 30.0L130.8 31.1L132.0 37.0L129.1 37.3L123.2 33.8L129.8 33.2L128.4 36.4L126.6 36.8L129.0 38.4L129.9 33.8L135.7 34.9L132.8 32.0L134.2 32.6L122.5 36.0L139.2 32.2L125.9 37.1L124.3 34.6L129.1 36.2L134.0 34.9L129.9 33.4L129.1 36.3L130.1 33.8L140.5 34.8L135.4 34.3L132.7 35.2L134.6 31.7L131.7 39.9L132.3 38.1L122.6 38.5L132.8 34.0L132.0 34.7L122.4 36.3L125.0 32.8L133.7 28.6L126.0 33.0L134.3 31.3L129.4 36.9L118.1 36.4L131.9 33.9L124.6 32.9L126.2 32.1L124.8 40.4L134.7 36.8L128.4 30.8L128.8 38.7L131.0 31.5L133.8 34.4L131.7 40.5L126.3 34.9L129.2 38.4L135.7 35.5L129.4 35.0L127.8 29.9L125.0 38.7L132.0 29.0L130.7 30.4L123.2 38.6L132.2 34.2L136.7 36.4L131.8 31.8L133.5 34.8L135.1 38.1L126.2 43.6L133.5 32.3L137.4 31.1L125.4 39.0L131.3 38.3L128.1 35.3L127.9 31.2L126.6 31.6L129.2 39.2L128.8 33.8L136.6 29.0L130.0 33.9L135.5 33.4L129.7 36.2L133.3 41.0L125.2 39.9L143.6 34.5L134.5 32.1L135.3 32.7L132.9 27.1L125.4 30.0L135.3 31.5L135.1 31.8L129.5 40.4L138.4 36.6L139.8 34.8L137.9 37.6L129.6 33.4L138.5 34.6L131.2 35.5L133.5 31.5L125.5 34.1L129.3 28.8L122.3 38.4L129.9 31.3L134.6 32.6L131.6 36.9L134.3 39.0L136.5 39.8L116.9 33.7L124.1 35.7L124.0 32.6L124.4 33.6L135.1 32.3L135.3 37.5L136.4 32.0L127.3 40.2L119.8 33.1L133.6 35.6L130.0 31.9L134.5 37.5L132.0 41.3L128.7 31.7L128.3 33.0L127.4 33.5L131.3 37.4L132.3 34.7L122.2 31.9L129.8 37.6L135.1 34.4L123.2 35.8L132.3 37.0L126.0 35.3L131.1 34.5L122.3 37.7L120.4 33.6L129.5 32.4L132.8 37.1L133.6 37.1L128.3 35.5L126.9 33.3L146.9 29.6L140.2 31.8L135.5 33.3L126.1 41.7L130.1 35.3L140.0 30.3L131.5 36.4L130.4 24.6L135.5 39.5L136.4 34.6L133.1 34.5L135.7 31.8L135.4 38.1L135.8 34.8L125.9 34.6L132.7 34.3L127.1 29.3L133.6 32.6L128.5 38.6L129.8 34.6L132.7 32.6L124.1 33.0L131.7 34.0L120.1 41.3L128.6 32.6L129.3 33.2L129.1 32.9L124.5 37.3L130.0 35.3L133.1 34.3L135.9 31.1L119.7 32.3L125.6 39.4L124.0 39.0L128.8 29.5L135.5 30.9L129.7 35.7L135.0 32.4L132.0 31.2L126.4 40.5L134.1 35.1L138.7 36.4L130.8 35.6L111.4 48.0L105.9 55.6L119.4 46.7L117.3 52.9L124.8 43.1L116.8 45.9L117.1 49.6L126.0 42.5L117.2 47.2L119.8 51.0L122.8 44.6L120.7 52.4L119.6 50.6L126.9 44.7" fill="none" stroke="none" filter="url(#bl)" marker-start="url(#mr)" marker-mid="url(#mr)" marker-end="url(#mr)"/>
<rect x="23.8" y="13.1" width="144.6" height="108.75" fill="none" stroke="#444" stroke-width="0.45"/>
<path d="M60.0 121.85v-1.6M60.0 13.1v1.6M23.8 94.7h1.6M168.4 94.7h-1.6M96.1 121.85v-1.6M96.1 13.1v1.6M23.8 67.5h1.6M168.4 67.5h-1.6M132.2 121.85v-1.6M132.2 13.1v1.6M23.8 40.3h1.6M168.4 40.3h-1.6" stroke="#333" stroke-width="0.5" fill="none"/>
<g font-size="8.4" fill="#000" stroke="#000" stroke-width="0.18">
<text x="22.2" y="124.4" text-anchor="end">−4</text>
<text x="22.5" y="131.4" text-anchor="middle">−4</text>
<text x="22.2" y="97.3" text-anchor="end">−2</text>
<text x="58.7" y="131.4" text-anchor="middle">−2</text>
<text x="22.2" y="70.1" text-anchor="end">0</text>
<text x="96.1" y="131.4" text-anchor="middle">0</text>
<text x="22.2" y="42.9" text-anchor="end">2</text>
<text x="132.2" y="131.4" text-anchor="middle">2</text>
<text x="22.2" y="15.7" text-anchor="end">4</text>
<text x="168.4" y="131.4" text-anchor="middle">4</text>
</g>
<text x="96.1" y="140.6" font-size="9.7" text-anchor="middle" stroke="#000" stroke-width="0.15">Expression of <tspan font-style="italic">SLAMF7</tspan></text>
<text transform="translate(7.7 67.5) rotate(-90)" font-size="9.7" text-anchor="middle" stroke="#000" stroke-width="0.15">Expression of <tspan font-style="italic">SDC1</tspan></text>
<path d="M260.1 67.5L247.6 75.1L252.0 72.1L250.6 63.0L249.5 81.4L254.7 72.7L264.8 70.9L251.0 73.8L251.9 81.6L254.5 68.2L256.4 66.8L258.4 65.5L249.2 77.2L243.3 78.5L258.5 72.2L257.5 62.9L248.6 72.7L257.7 68.1L256.1 76.2L246.7 68.1L256.1 69.1L251.4 74.2L264.3 65.5L252.3 62.5L256.9 76.7L248.5 77.9L259.0 83.3L258.1 67.8L252.6 71.2L256.1 75.2L258.3 77.3L249.2 74.2L255.9 66.1L253.2 69.5L252.3 84.3L256.4 80.3L242.7 78.5L256.6 71.5L248.8 70.9L249.1 66.8L249.6 74.2L257.2 75.3L255.4 76.3L247.7 67.6L250.1 78.0L254.3 75.9L253.7 82.9L254.7 68.8L251.5 79.5L255.6 75.8L257.2 73.8L259.8 76.2L245.1 83.0L248.2 68.8L250.0 67.8L250.1 71.3L254.0 75.0L252.2 72.8L258.2 62.0L256.4 78.3L261.1 69.8L253.2 62.9L261.2 68.5L255.2 72.9L245.8 86.9L249.4 62.1L254.4 75.6L262.5 71.4L250.9 81.4L249.8 67.1L262.5 74.7L259.0 66.7L248.6 85.4L253.4 70.4L267.8 76.0L249.3 72.8L253.1 71.1L253.1 74.1L256.6 69.1L251.2 78.4L252.9 69.8L259.7 67.7L253.6 77.8L264.8 64.4L258.0 73.8L246.3 74.6L256.2 70.1L254.9 70.1L252.4 70.5L258.7 71.1L257.6 73.7L247.2 80.6L264.7 67.2L254.1 71.3L253.3 79.3L248.9 67.4L257.3 70.4L249.8 69.4L248.3 68.5L257.5 65.4L257.9 79.7L253.3 66.3L253.7 60.8L260.0 72.2L254.3 84.8L253.9 72.9L253.5 78.3L247.6 77.2L247.7 73.7L251.0 63.6L251.2 76.1L257.6 73.4L254.2 68.3L253.5 74.6L258.8 69.3L243.8 73.2L262.4 63.0L256.1 71.7L248.6 74.2L252.4 74.1L246.3 74.3L256.1 74.7L253.2 75.1L249.2 82.7L248.3 72.1L252.7 81.6L254.7 77.1L256.1 75.3L246.6 72.9L252.4 72.7L253.3 69.0L257.2 75.4L259.7 67.6L258.1 68.0L259.5 69.7L255.1 70.7L265.2 74.3L253.0 72.3L253.2 74.4L249.4 70.3L251.7 82.7L252.2 80.8L259.5 73.1L258.9 64.8L247.7 74.2L252.8 76.6L250.5 82.9L257.0 73.3L253.9 74.4L250.6 75.8L251.3 81.5L257.7 65.2L250.3 69.9L253.3 64.8L256.1 68.8L256.9 78.4L254.9 72.7L254.8 70.4L255.5 75.0L253.6 74.7L246.1 74.5L250.6 75.5L259.4 73.7L251.5 81.1L245.2 82.5L243.0 73.0L251.3 82.0L253.7 72.1L262.3 78.7L249.9 72.6L260.0 65.0L258.7 75.6L257.3 72.5L249.9 70.5L256.6 68.0L248.7 76.9L254.2 67.6L257.1 73.0L247.4 70.5L259.5 70.4L263.0 69.9L258.3 71.6L255.7 64.5L265.2 65.8L263.8 70.6L251.7 67.6L257.7 67.3L255.5 70.8L259.1 66.5L254.9 76.5L252.2 68.3L251.5 74.4L254.5 76.0L264.5 69.5L260.9 67.7L262.2 68.3L256.5 75.2L254.1 70.9L250.9 74.4L248.0 72.8L255.0 70.0L255.8 72.4L252.8 68.5L246.6 71.6L241.1 81.7L248.7 63.3L261.6 71.7L260.6 76.5L261.8 64.4L261.3 61.5L255.1 76.7L247.4 73.6L262.1 81.2L253.0 75.3L253.5 76.0L251.8 73.4L245.5 77.2L254.1 76.6L262.8 63.4L259.8 64.1L248.0 71.7L244.5 70.5L261.0 75.6L259.9 72.0L247.3 73.1L251.5 74.5L265.4 68.5L251.2 75.9L252.4 72.9L252.3 78.8L256.6 71.1L251.4 78.4L255.1 82.0L251.1 77.3L250.8 74.2L244.3 76.0L258.7 64.2L264.2 73.3L256.6 73.6L259.7 73.6L256.6 70.3L255.0 74.0L247.1 64.8L252.1 72.7L244.8 72.1L251.8 68.1L251.6 73.1L249.1 80.3L246.6 80.7L253.7 74.1L253.8 72.1L260.3 62.4L249.2 77.9L252.2 75.6L249.3 74.7L257.6 64.4L252.5 73.9L260.2 74.9L260.2 71.2L249.9 88.2L265.2 69.2L246.6 70.7L252.7 69.0L248.1 80.7L261.7 68.5L250.9 67.9L253.8 58.9L247.6 71.5L258.8 66.4L256.4 68.2L255.0 73.0L255.2 82.8L254.3 67.6L255.6 72.8L259.2 65.2L252.1 71.8L248.8 79.3L253.3 71.9L257.8 72.8L256.4 70.6L256.4 69.4L256.4 73.1L256.8 82.2L255.7 79.6L259.4 73.5L250.2 71.4L257.2 67.3L255.0 71.9L260.0 68.3L247.8 69.8L254.1 74.5L259.5 64.0L259.6 74.0L254.1 73.0L247.9 70.2L258.1 68.1L248.7 72.7L261.1 72.7L248.4 74.6L248.0 68.8L248.2 83.0L251.9 75.6L254.9 75.5L251.3 72.9L256.4 75.3L260.3 68.6L240.9 65.8L251.1 77.0L247.5 69.8L258.5 65.7L254.0 75.6L250.4 73.4L253.4 69.5L248.9 78.8L249.4 71.9L251.9 65.1L261.8 64.6L253.3 77.2L255.8 66.4L252.7 78.4L251.5 61.1L255.6 69.7L252.5 72.6L258.6 75.0L251.1 68.5L251.6 63.4L256.6 69.3L258.4 66.8L256.4 67.1L257.9 67.9L255.4 61.1L258.9 66.9L252.3 70.9L248.7 68.7L255.2 79.8L258.1 81.4L255.1 73.9L256.6 72.4L252.4 73.4L259.0 74.0L262.4 68.0L254.3 70.3L254.3 81.3L254.3 67.8L261.9 69.6L259.5 72.9L247.3 69.1L251.8 74.3L251.7 68.9L249.4 73.6L254.8 72.6L260.0 68.3L256.0 71.8L255.3 71.9L246.3 62.3L255.6 73.5L251.8 65.7L259.1 71.5L245.1 72.7L248.5 72.9L251.9 68.3L258.6 63.7L250.8 75.8L254.3 78.1L256.4 64.8L252.1 66.9L265.5 73.1L257.5 80.5L248.3 64.7L247.5 78.5L254.4 67.1L257.4 73.8L255.8 72.0L259.0 75.0L260.6 77.8L250.3 73.2L257.8 69.6L251.8 82.3L248.3 78.2L252.1 67.6L253.5 70.2L257.7 62.7L247.3 77.1L253.4 76.9L258.9 73.3L255.4 71.7L254.5 70.6L258.6 71.7L253.5 68.0L247.5 80.3L243.8 68.6L255.6 75.2L248.4 74.1L264.0 65.1L259.9 75.0L251.8 64.9L255.3 58.3L249.0 72.6L248.7 70.8L259.3 73.5L253.6 71.1L253.3 63.9L254.9 67.4L255.0 71.4L254.4 71.7L250.4 75.7L254.7 70.2L249.0 77.5L252.8 75.8L255.1 71.7L253.2 75.7L238.8 76.4L246.8 71.1L247.1 76.0L250.0 68.2L252.6 70.7L244.8 77.1L256.9 70.6L264.0 70.5L256.0 71.5L254.5 73.3L249.5 73.4L249.5 60.9L256.7 71.7L250.1 70.9L251.7 73.1L251.9 77.8L250.9 74.1L250.6 68.2L252.2 69.9L255.2 70.6L250.1 70.5L248.7 75.6L257.7 72.5L253.8 66.8L246.9 70.7L246.0 82.8L245.8 74.4L253.1 82.0L244.9 75.0L259.1 61.4L256.4 74.9L259.7 78.0L245.2 79.0L250.2 72.7L249.4 64.2L253.6 76.6L259.5 70.9L264.4 73.2L253.8 75.3L254.1 68.2L251.2 73.8L247.6 74.8L245.8 74.0L247.4 69.4L265.3 64.3L254.9 67.2L258.2 76.9L256.6 72.5L257.2 77.4L252.8 76.9L247.6 80.7L252.7 69.9L256.5 75.8L259.2 74.4L251.8 85.3L247.8 68.9L255.3 80.1L248.9 77.5L253.4 69.6L250.7 69.7L259.2 72.4L244.5 69.1L255.2 69.7L258.3 78.6L258.9 83.2L259.6 77.5L247.7 71.8L255.4 72.7L259.5 71.2L254.3 77.7L253.9 69.0L247.7 76.5L258.7 69.9L246.2 75.6L249.1 65.3L250.4 71.3L251.0 81.6L259.8 75.2L257.1 61.5L260.3 68.8L248.8 74.6L255.1 64.6L252.4 72.7L250.7 72.9L260.7 70.4L246.8 73.4L247.1 71.2L258.0 77.2L259.7 61.8L255.2 78.8L246.4 83.2L259.9 66.1L243.7 78.0L255.1 68.6L254.4 76.2L244.0 73.8L252.3 68.3L245.8 76.5L250.6 70.9L253.7 69.5L254.0 67.2L243.6 74.2L254.9 79.0L253.8 56.7L253.3 78.3L251.6 69.9L246.6 70.9L257.2 75.2L256.0 64.7L255.3 74.6L258.0 67.9L253.9 76.9L252.3 67.4L253.5 79.9L258.7 72.0L251.0 71.8L248.3 74.0L249.4 77.0L257.8 76.3L251.2 78.8L259.3 77.2L252.6 71.2L255.6 68.9L259.7 76.7L262.8 71.0L259.4 67.9L249.1 71.1L255.4 69.4L255.0 69.5L248.0 75.2L260.9 70.6L255.3 74.7L252.6 65.2L248.1 73.4L257.2 67.3L245.5 73.5L257.9 74.7L251.3 73.8L249.5 68.5L256.6 73.1L248.6 75.8L253.8 71.5L254.3 74.2L250.1 70.8L254.6 76.5L262.0 68.6L257.1 78.0L255.1 69.0L258.5 71.2L252.5 63.0L254.3 69.7L258.6 74.9L250.8 67.8L254.3 74.4L255.1 80.5L254.4 73.3L262.6 72.9L252.3 72.2L254.9 63.8L246.7 74.0L257.1 67.7L255.5 70.6L250.1 72.7L254.3 77.0L261.4 73.7L250.3 76.0L258.1 79.1L255.0 79.5L255.9 65.6L245.7 67.2L245.8 73.0L254.3 71.9L256.7 77.4L252.2 70.5L246.4 73.8L263.0 75.7L254.5 76.6L256.5 76.2L253.7 70.4L248.3 80.9L255.1 66.7L252.9 69.2L252.3 82.3L251.9 70.6L254.5 74.8L254.3 76.0L243.0 71.5L251.0 72.9L254.2 77.2L255.4 75.6L256.6 67.5L247.8 79.6L254.5 68.0L252.0 76.6L256.0 70.5L251.5 68.8L252.3 73.8L244.6 70.8L247.5 72.6L263.5 67.4L260.7 65.3L257.3 76.0L256.3 74.3L249.6 76.6L262.7 72.1L264.0 75.0L253.4 58.0L249.7 71.9L251.3 72.9L258.1 74.0L256.9 68.4L254.5 72.8L256.8 72.6L256.2 73.2L255.1 79.9L258.0 64.4L257.4 80.9L240.0 71.4L256.3 74.3L260.2 72.0L255.7 69.8L245.3 81.3L257.3 72.5L249.3 77.1L246.3 68.6L249.3 82.0L252.3 71.0L249.8 83.9L254.4 79.8L255.0 73.4L252.8 69.1L261.1 69.8L260.7 72.0L256.9 76.6L250.1 70.4L251.5 72.6L253.3 75.5L254.6 67.2L247.7 70.7L259.3 73.3L257.6 69.2L248.7 74.3L247.8 71.9L255.9 79.6L260.3 78.9L253.3 80.1L252.6 78.6L252.2 77.8L251.7 73.0L261.7 71.6L256.8 76.4L254.0 72.2L248.4 59.9L244.6 74.3L252.4 74.0L262.6 54.4L263.1 65.2L255.3 75.3L257.9 64.7L256.6 72.1L247.6 79.3L257.1 71.6L250.8 76.9L253.1 73.1L255.8 69.4L248.0 70.5L253.5 78.2L252.2 80.8L249.1 75.1L252.2 68.9L249.3 76.2L266.4 75.1L249.9 83.1L257.8 74.8L242.2 72.1L251.5 65.2L247.7 71.7L249.7 77.6L259.3 69.3L255.1 76.1L253.7 74.7L257.0 72.6L252.2 75.6L254.7 71.8L260.1 78.3L256.4 75.7L259.7 72.9L259.0 85.4L248.0 72.6L264.2 74.3L249.3 69.1L259.0 76.3L250.4 79.5L263.0 76.3L259.2 75.5L249.0 75.3L258.5 68.4L253.5 81.9L252.3 69.0L255.5 71.9L250.3 74.6L251.4 75.8L251.2 79.2L251.4 80.2L249.1 72.2L264.1 70.5L250.2 65.0L257.2 66.7L251.1 72.5L260.1 74.1L253.0 69.7L250.7 75.7L263.3 71.7L251.9 78.0L249.8 73.9L257.1 71.4L246.6 78.7L257.5 67.2L252.6 69.7L255.2 75.1L248.0 74.1L257.9 73.6L256.6 78.8L251.3 68.5L253.7 72.7L258.0 70.3L245.4 77.8L256.3 67.9L256.1 71.1L251.3 64.1L252.2 66.7L261.2 70.5L253.1 79.9L252.0 73.9L249.2 71.6L255.0 78.1L252.9 68.1L261.5 82.1L257.5 67.8L249.3 77.2L250.0 70.7L257.4 65.1L250.0 69.9L248.7 76.4L253.2 71.2L254.7 74.5L260.9 73.1L249.0 72.8L260.3 74.2L253.0 75.5L255.0 74.9L250.7 70.8L257.6 74.8L260.0 68.3L254.0 68.3L257.3 75.4L251.4 78.4L248.7 81.4L247.2 75.0L251.7 69.3L252.0 74.3L258.8 77.7L253.8 75.4L249.3 78.7L251.9 74.0L253.4 75.7L256.2 65.1L251.9 73.1L265.7 62.0L258.0 70.7L251.9 76.1L254.8 71.9L248.8 76.2L256.2 70.6L250.4 83.1L253.4 66.0L247.9 70.2L250.5 67.7L250.2 78.5L255.5 60.7L253.6 79.3L261.6 73.2L244.5 77.4L255.0 74.6L259.3 72.1L247.5 79.2L257.3 74.2L252.9 70.1L255.9 78.5L267.6 70.7L260.7 75.2L249.2 78.1L250.6 75.6L249.9 76.5L251.8 72.6L254.7 69.5L260.4 74.2L255.1 71.4L254.1 72.9L251.4 69.2L262.9 68.7L253.8 66.7L249.0 80.0L257.8 72.8L252.2 73.4L253.7 64.8L259.8 68.5L252.7 79.5L248.7 74.5L276.6 59.6L257.8 71.6L261.7 72.3L261.7 66.6L275.2 61.8L255.3 70.6L264.5 62.2L246.4 68.1L261.0 60.8L245.7 81.7L261.5 83.6L250.0 77.5L266.2 54.0L246.9 72.1L251.6 75.9L265.1 64.2L256.9 66.9L261.2 64.8L251.9 73.0L235.2 78.0L267.9 61.8L271.6 62.2L259.8 73.9L266.0 61.8L255.4 74.1L256.5 63.6L253.7 70.1L257.5 76.6L260.1 70.9L248.8 72.9L258.7 58.1L260.2 57.7L261.3 71.4L266.6 61.4L261.9 69.5L261.5 75.0L258.6 68.0L268.3 55.0L277.4 65.5L263.2 64.5L255.4 75.1L243.3 74.4L246.0 72.1L259.0 71.6L250.3 70.0L258.2 70.2L264.8 56.2L262.3 73.4L254.7 67.0L255.7 65.5L260.7 76.4L258.2 64.9L246.7 70.8L270.3 55.6L248.7 69.9L252.7 81.3L265.6 68.0L259.7 76.5L247.2 73.6L265.5 76.3L259.2 61.8L268.1 59.3L255.1 65.3L255.6 69.2L261.2 65.1L256.1 65.4L254.9 64.4L263.3 54.0L254.5 64.3L254.2 66.6L252.1 79.1L258.9 68.9L264.7 73.2L260.7 67.5L264.2 63.3L261.5 54.6L247.3 66.6L269.1 65.0L264.5 73.8L260.4 71.1L259.4 65.2L249.9 64.0L260.7 75.2L258.8 77.6L263.7 71.5L257.6 59.5L264.9 65.8L263.4 65.0L255.3 80.2L263.4 58.5L269.8 58.3L251.9 75.4L264.7 66.5L266.8 63.3L252.2 66.0L255.5 75.7L259.9 61.5L271.6 57.0L265.7 68.4L263.1 60.6L272.8 59.2L262.3 63.5L262.1 56.4L261.8 66.5L264.0 67.1L259.5 58.8L258.1 69.5L256.2 76.1L255.0 72.0L260.8 60.3L264.9 56.5L262.4 61.1L248.1 75.6L262.7 64.0L266.5 68.2L265.4 60.5L263.8 75.5L257.2 66.2L262.9 70.9L258.4 77.4L248.0 68.3L270.1 53.8L256.2 69.3L265.1 63.5L266.9 58.3L259.0 72.8L266.8 62.8L259.0 67.6L259.5 66.9L279.3 65.5L249.1 68.5L270.7 60.0L253.2 67.5L249.6 69.0L257.7 66.4L258.8 71.4L249.3 74.2L255.2 75.0L257.9 76.9L268.7 76.3L261.9 59.4L261.2 64.4L261.9 53.6L255.9 71.7L255.3 69.7L249.9 76.5L269.2 58.7L249.1 74.8L259.0 63.6L255.9 67.1L272.7 59.4L256.3 72.6L248.4 65.5L260.1 65.1L265.4 65.5L266.3 70.6L265.6 50.9L254.9 64.5L257.9 68.2L252.1 70.4L261.0 57.1L264.1 60.9L243.8 84.2L251.0 79.4L255.4 71.6L260.6 72.4L263.2 61.0L272.3 59.5L258.2 73.3L269.5 64.5L260.0 69.5L259.2 69.1L250.3 80.8L270.3 54.7L258.6 67.4L263.7 54.7L259.7 67.6L266.5 56.4L253.6 64.2L267.3 67.9L262.6 70.7L261.7 72.9L261.0 67.4L261.8 68.7L264.3 62.6L262.0 63.6L270.9 71.1L253.4 64.2L254.8 68.3L258.7 71.8L263.5 57.3L250.6 73.3L255.0 69.6L258.2 66.9L257.7 67.1L267.6 63.1L257.4 72.2L272.9 51.9L264.2 48.7L252.1 70.8L268.1 66.0L260.4 66.3L263.0 62.4L252.6 70.8L274.8 66.0L262.1 69.3L249.4 66.9L248.4 77.6L245.5 71.1L257.7 67.4L254.4 73.3L265.4 66.3L261.8 69.2L256.0 73.6L245.3 74.4L261.6 57.5L255.4 62.1L256.3 71.2L257.6 73.3L255.5 69.0L258.2 66.0L262.4 60.2L263.3 58.7L253.2 69.2L248.9 57.5L259.6 66.1L257.0 59.9L257.3 62.7L263.0 61.2L257.0 63.4L264.3 68.0L261.5 73.4L261.0 60.1L266.3 54.4L265.1 67.4L254.6 68.1L262.9 64.6L250.9 71.3L262.4 69.3L266.7 63.3L252.3 71.0L250.9 66.8L262.0 66.9L252.5 61.3L269.1 54.4L255.8 70.7L240.1 80.1L258.1 74.9L257.3 72.0L257.4 67.9L258.5 63.6L244.7 76.0L265.6 73.7L247.6 72.5L261.6 67.9L258.2 74.0L258.5 75.5L263.6 62.3L266.7 58.9L261.0 74.3L255.5 75.1L254.3 71.1L263.2 66.4L271.1 59.0L255.6 59.7L258.4 77.5L252.8 72.6L258.5 64.7L256.3 74.3L259.1 66.0L263.1 61.6L261.7 69.1L261.7 62.2L251.9 72.9L259.9 61.1L254.8 67.9L255.6 77.4L261.6 68.6L254.6 58.3L260.5 77.9L258.2 72.0L251.4 75.1L258.6 66.7L255.9 70.5L260.1 67.1L260.2 73.8L258.8 68.4L257.8 63.5L267.1 60.9L260.7 61.6L260.7 65.1L262.9 74.1L258.9 72.6L260.2 66.8L250.5 71.6L247.5 78.8L263.1 66.3L247.7 68.7L258.8 71.5L255.6 69.3L254.9 84.0L233.2 82.8L263.5 78.5L235.9 79.7L239.0 68.3L256.2 86.6L261.4 84.2L259.4 79.6L244.6 75.9L243.3 72.1L255.1 85.6L239.3 70.5L266.9 86.9L268.5 78.8L252.7 80.2L252.3 71.5L255.9 90.2L272.3 74.7L245.4 81.7L247.0 79.4L257.9 78.3L249.6 84.3L261.8 80.3L273.6 84.3L261.3 79.4L248.2 71.9L255.7 84.8L251.9 73.9L244.3 71.8L260.4 81.3L266.1 69.7L259.7 78.7L270.2 71.2L246.8 80.9L252.8 82.1L241.9 74.5L255.3 79.1L266.5 82.9L254.1 78.1L250.9 80.3L261.1 79.8L265.9 84.0L256.3 87.9L253.6 83.7L266.2 75.4L258.9 69.1L266.9 75.6L248.7 88.0L254.4 81.8L249.1 81.4L240.5 71.1L244.9 83.6L259.5 89.1L262.5 74.3L251.9 85.9L250.6 90.4L266.5 79.4L248.3 84.9L259.5 71.0L243.7 83.0L304.4 85.9L305.8 72.8L291.7 81.2L301.3 80.5L304.3 85.1L289.9 79.6L303.2 80.9L283.9 71.8L301.4 72.3L294.7 83.0L297.7 85.6L291.7 80.9L287.7 87.1L293.5 88.4L288.3 77.7L300.8 81.7L287.2 78.8L299.9 80.7L287.6 79.9L292.6 78.4L284.4 76.5L292.7 74.1L303.6 81.4L282.7 78.6L279.4 73.1L295.5 84.7L294.0 74.2L301.8 76.3L300.0 73.8L283.6 65.5L301.3 92.9L298.5 84.3L286.3 82.2L296.8 85.7L279.6 87.3L290.0 74.7L295.4 78.7L297.5 84.5L295.7 71.6L290.3 78.0L304.6 79.8L289.2 78.1L297.4 92.3L308.6 85.4L288.7 80.5L309.8 73.7L281.0 77.2L287.1 83.4L301.7 87.3L293.0 63.4L291.3 80.2L298.9 75.6L288.8 91.7L287.7 69.5L288.6 70.9L284.1 73.9L300.7 72.7L286.9 75.7L286.2 76.9L302.6 85.0L293.0 70.2L304.0 83.2L288.2 77.4L309.9 88.9L293.0 73.7L292.1 92.1L294.3 72.2L290.2 77.7L288.9 79.0L289.9 83.4L290.2 79.3L294.0 72.7L307.9 78.4L301.0 83.8L296.8 70.5L308.7 87.6L297.2 69.4L298.9 92.4L291.5 81.2L284.1 74.7L291.9 71.8L293.8 89.4L296.2 81.5L288.5 75.0L280.6 79.3L304.3 95.6L289.7 78.2L300.4 83.3L285.1 70.1L291.7 85.4L285.3 69.8L298.4 73.0L283.8 76.6L294.8 72.3L297.7 74.2L295.6 82.4L300.4 79.9L298.7 81.6L297.5 85.2L294.5 81.6L292.1 79.3L282.3 86.3L285.4 75.7L289.8 83.0L284.2 77.0L298.6 73.6L293.9 67.9L284.0 79.7L295.4 69.7L295.0 73.0L290.3 80.5L296.8 70.5L303.4 82.0L298.0 75.7L299.2 74.9L294.7 71.8L304.3 83.9L286.9 82.2L282.7 79.6L300.0 70.2L301.2 79.3L295.7 75.3L302.9 84.3L297.6 76.6L300.2 76.2L296.6 76.0L289.2 72.0L291.0 73.7L288.5 78.1L297.8 72.0L298.8 77.4L285.5 80.1L300.1 73.8L285.3 86.5L289.2 80.0L285.8 70.0L290.1 80.9L289.4 79.5L297.1 83.8L304.8 79.5L298.1 85.1L288.5 86.3L274.7 76.8L279.6 75.9L306.6 72.5L294.4 93.3L289.4 72.3L295.8 81.9L298.4 83.5L285.5 72.9L300.2 75.2L282.3 71.1L289.3 79.2L294.1 83.4L286.3 87.0L297.6 90.9L300.3 75.2L295.0 82.2L295.4 73.9L293.9 79.9L284.2 70.9L286.3 86.0L290.5 77.8L284.1 70.8L295.9 72.7L279.5 74.7L287.5 71.5L292.4 80.5L293.4 82.0L306.2 89.2L288.0 81.4L307.4 73.2L290.0 78.4L282.2 73.0L291.2 81.4L299.0 78.3L287.2 78.3L294.8 79.6L295.2 81.3L292.4 84.7L287.6 81.8L291.0 77.7L293.9 85.3L294.8 81.9L292.1 79.2L305.5 79.5L290.7 74.5L291.8 73.7L295.3 80.2L288.7 63.6L287.3 75.2L304.4 70.2L298.2 74.2L292.4 71.4L288.7 71.0L288.1 78.5L284.9 65.6L301.3 74.9L295.7 81.6L297.0 82.9L298.4 79.6L290.8 81.4L294.3 81.0L301.2 79.2L291.9 75.6L301.5 83.6L299.9 84.9L290.2 80.6L293.1 85.1L284.0 70.0L300.1 77.6L298.1 74.4L292.4 88.1L280.2 63.3L295.8 80.2L283.0 77.7L292.5 77.9L292.1 75.5L290.9 84.1L309.1 88.3L297.3 87.4L284.7 72.4L290.1 76.9L291.1 75.8L303.5 78.1L287.2 84.1L298.1 79.4L302.7 82.5L302.8 69.9L300.1 80.5L298.0 88.4L295.7 77.6L293.5 79.7L293.7 83.4L295.7 76.3L296.9 73.5L278.7 78.4L294.9 82.2L302.3 79.5L290.2 75.9L300.5 75.3L293.3 81.7L292.8 73.6L290.2 71.5L287.7 77.1L297.4 83.8L306.6 90.8L290.3 74.4L300.8 77.4L299.5 76.8L289.2 66.8L292.8 73.4L294.3 77.3L299.6 76.0L298.6 87.6L286.4 78.3L290.2 81.6L296.9 74.8L290.8 71.0L298.0 82.0L299.5 72.8L304.4 88.5L305.1 86.0L294.8 75.8L292.4 74.0L298.3 81.4L288.3 73.8L286.8 82.3L286.3 75.0L294.2 84.0L295.7 84.0L293.2 71.0L296.5 68.5L300.0 82.2L300.8 66.0L291.3 89.8L290.0 77.9L299.8 83.0L284.0 89.0L294.6 79.0L296.6 73.7L291.7 79.0L287.0 86.8L301.1 78.7L302.8 70.7L284.2 84.7L296.4 72.6L289.2 89.1L297.2 76.7L296.3 85.5L290.1 86.1L299.7 85.2L291.4 82.8L314.0 87.1L296.7 84.1L300.4 83.7L300.2 86.2L299.7 77.8L294.4 86.3L306.5 74.9L265.9 74.8L275.8 74.7L291.6 75.9L286.9 74.9L276.6 78.4L263.7 79.4L274.4 78.7L292.6 74.2L289.4 69.0L254.9 73.9L283.4 77.6L267.9 73.0L297.6 69.6L282.6 72.4L294.8 63.9L298.5 75.9L284.8 75.8L286.4 80.5L293.0 81.9L273.9 74.4L276.7 78.7L258.5 71.3L283.5 77.9L289.2 75.5L275.2 62.7L278.2 70.0L305.7 81.4L284.7 82.8L296.3 79.4L270.3 67.6L294.7 83.3L297.9 75.6L316.4 64.7L276.9 78.9L273.0 76.0L284.2 71.7L284.6 87.5L273.8 66.9L297.6 78.1L281.9 78.2L283.9 89.0L294.4 81.7L285.4 95.0L286.4 67.4L256.5 66.1L289.3 82.2L264.4 68.7L286.7 72.8L280.3 82.7L294.1 83.8" fill="none" stroke="none" filter="url(#bl)" marker-start="url(#mo)" marker-mid="url(#mo)" marker-end="url(#mo)"/>
<path d="M288.8 40.1L297.7 37.9L286.9 40.6L297.0 32.1L289.0 29.2L282.3 34.8L290.0 40.3L296.5 35.0L293.9 38.3L297.2 36.3L286.3 34.6L293.8 35.3L291.0 37.0L294.6 39.2L287.8 32.9L289.7 33.9L288.4 29.7L292.0 38.5L296.5 32.0L286.0 33.7L287.6 35.1L299.9 35.4L301.2 34.3L298.6 33.4L294.4 39.9L287.6 33.5L298.7 33.3L288.6 36.3L287.5 35.1L286.4 35.3L292.3 33.4L287.8 34.9L294.8 36.6L294.3 36.1L290.8 34.6L292.4 34.8L289.8 30.8L286.5 37.5L290.1 36.1L292.7 35.4L296.2 38.0L304.1 32.2L286.8 38.3L289.8 36.4L291.3 37.3L293.2 35.0L303.7 32.2L294.8 41.4L288.8 35.5L290.7 34.1L295.0 37.4L294.6 35.6L279.4 31.9L294.8 35.6L289.9 33.7L296.3 37.0L281.5 33.8L301.3 38.3L296.0 33.6L289.6 36.3L300.0 32.9L289.0 35.4L294.1 32.9L293.3 37.9L292.7 38.5L286.8 34.5L296.9 33.5L287.6 41.8L291.4 30.3L300.0 34.0L299.3 33.8L305.5 37.2L294.7 34.1L289.8 34.1L285.7 34.0L289.2 38.2L290.2 26.1L279.9 34.7L287.5 32.9L292.5 29.2L294.1 34.8L282.8 42.5L291.7 39.9L295.5 34.6L293.7 34.1L296.1 34.5L298.4 34.9L298.6 31.9L298.1 31.9L294.4 35.4L286.0 35.7L301.3 31.8L306.7 31.6L295.3 38.4L291.9 35.8L282.2 37.9L281.0 32.9L295.9 36.6L285.4 36.5L291.5 35.7L298.6 34.8L298.3 38.3L292.1 29.7L283.8 36.5L290.9 33.6L284.8 35.3L294.9 35.6L284.0 28.7L297.1 40.0L288.0 35.8L290.3 31.6L292.9 38.6L302.2 33.3L297.8 33.1L298.9 34.7L300.0 34.6L293.9 32.9L285.3 36.6L294.8 28.7L289.7 33.5L287.7 31.4L286.3 33.9L288.8 38.0L295.3 34.6L291.6 34.9L290.4 35.1L295.7 39.0L287.2 34.0L296.2 32.7L290.0 35.1L302.6 36.6L293.8 29.9L296.8 35.1L298.2 35.3L292.1 41.0L306.1 30.5L292.4 36.6L286.2 33.1L303.0 33.5L286.9 37.8L292.9 32.0L294.5 38.0L296.7 38.0L290.7 40.2L288.3 40.4L293.1 39.0L292.8 31.8L285.1 32.3L292.4 34.5L290.3 33.4L293.2 31.5L289.4 32.0L289.0 33.5L296.2 35.4L299.0 34.5L292.2 32.4L295.8 24.8L291.6 31.3L288.9 42.8L292.1 30.6L303.9 30.6L297.2 35.4L292.5 40.3L291.6 36.9L295.3 32.3L273.6 37.1L289.2 35.5L295.6 33.5L284.0 35.8L287.7 36.3L280.4 41.8L288.6 33.9L291.7 38.2L298.2 34.5L292.6 38.4L297.1 32.4L287.2 37.4L296.3 36.3L278.8 35.8L291.6 32.1L279.2 33.7L299.6 33.9L294.5 35.5L298.8 34.9L297.4 33.0L293.1 38.9L301.4 34.7L288.3 34.1L295.3 44.1L295.3 36.5L294.9 38.0L295.0 36.4L277.4 35.4L293.2 34.9L292.6 34.3L294.3 34.6L286.1 33.5L289.4 31.5L291.8 37.9L301.8 35.3L292.1 33.8L287.0 37.5L295.7 32.0L286.4 37.3L289.2 31.4L290.5 35.4L301.8 29.3L288.7 35.2L295.6 38.0L292.7 35.1L287.5 39.3L284.6 36.1L286.8 38.7L289.3 31.8L292.8 39.1L293.4 33.1L300.7 37.7L291.7 37.8L289.6 38.8L302.3 35.4L285.1 38.7L292.0 34.2L296.1 31.0L290.8 33.8L302.4 38.3L306.6 32.9L292.7 32.7L284.6 37.0L293.1 33.4L284.9 38.6L289.1 36.2L293.2 32.3L297.1 37.2L288.7 35.6L293.6 35.1L289.9 36.4L287.8 34.5L283.3 32.7L287.8 36.3L292.0 36.7L277.5 38.1L288.1 31.6L299.9 36.0L295.0 37.3L299.1 35.2L284.8 34.1L291.9 34.9L300.1 31.5L290.8 38.3L291.2 35.6L295.6 37.2L296.4 36.9L289.4 34.3L290.6 35.7L292.4 28.9L300.7 29.9L290.2 35.0L294.9 35.1L299.4 37.7L294.1 39.4L286.8 32.6L311.2 36.1L290.5 34.6L291.1 33.8L287.5 33.2L282.8 36.5L289.0 40.2L293.8 38.2L282.8 29.7L290.4 39.0L292.6 34.7L290.1 32.1L289.4 43.1L285.4 37.5L293.7 30.5L294.6 38.5L298.9 33.5L286.0 31.5L293.3 36.0L284.0 37.6L284.3 35.6L291.0 35.8L290.9 36.5L295.7 34.7L295.1 33.5L291.8 35.7L293.3 35.3L283.0 36.5L295.4 35.2L288.8 36.1L293.0 35.5L290.8 34.0L291.2 39.8L299.8 41.2L286.9 32.5L285.2 35.7L286.1 36.0L294.0 39.1L296.6 35.8L285.9 31.1L294.1 33.4L291.3 37.3L301.6 35.4L299.8 34.5L292.9 35.3L292.5 33.4L296.1 31.6L300.6 33.2L290.7 37.4L299.7 31.7L294.9 32.1L288.1 35.6L291.2 32.2L290.9 37.8L290.7 33.5L290.9 34.6L292.9 35.1L298.1 38.0L286.8 37.7L292.2 39.3L292.0 37.3L277.6 40.4L296.2 31.4L288.0 41.8L290.0 32.7L297.8 31.9L295.6 37.2L294.3 35.9L297.3 27.5L295.1 36.6L287.7 35.9L285.4 36.8L290.2 35.0L291.4 35.6L291.2 30.2L296.0 35.8L293.3 33.0L289.2 32.7L298.7 33.0L293.2 35.5L292.9 40.5L290.5 34.8L299.5 33.9L284.4 37.4L289.2 36.1L297.0 36.7L293.0 31.0L288.5 37.6L287.1 36.2L295.2 33.1L298.1 38.4L287.0 41.1L290.6 39.6L292.4 35.4L296.2 40.5L292.7 34.9L296.7 34.3L287.6 37.8L291.7 38.3L289.6 33.5L278.6 34.6L288.6 31.4L296.2 31.1L295.4 36.1L286.2 35.2L286.5 40.1L291.1 36.6L295.0 39.9L287.1 35.2L298.2 37.7L295.3 30.3L292.8 35.7L289.5 35.3L290.2 33.1L289.6 32.8L298.0 33.6L293.7 34.3L292.7 36.6L292.9 32.0L295.8 37.8L288.1 32.7L293.2 34.3L296.4 34.7L285.6 33.7L291.4 35.7L299.9 32.5L288.7 32.4L281.4 35.6L288.0 38.7L285.1 33.6L284.4 34.2L288.4 31.2L294.7 32.5L287.1 37.9L297.3 32.6L290.7 33.3L289.3 37.5L289.2 32.1L293.9 35.3L296.9 31.6L283.1 40.3L287.2 33.1L295.0 35.3L297.8 36.0L290.4 33.2L290.5 32.6L291.8 38.2L283.5 32.9L293.9 29.4L289.3 34.9L284.2 43.3L299.3 31.5L293.8 37.2L283.7 34.8L298.8 35.5L286.0 30.7L301.7 32.4L295.1 39.2L293.9 39.0L293.1 29.9L288.5 33.1L288.4 34.4L287.8 38.8L292.8 32.2L295.8 35.3L284.3 31.7L295.4 36.5L288.5 34.6L294.6 32.6L288.8 35.1L275.7 33.7L286.7 32.7L275.8 34.4L295.0 33.3L291.8 36.4L290.1 34.3L292.3 36.0L288.8 39.8L287.5 35.5L292.3 41.5L284.6 41.0L295.5 32.3L295.1 35.3L303.3 34.0L290.0 33.1L292.9 33.9L290.0 37.0L293.8 28.8L294.9 30.7L290.0 30.8L294.4 32.8L290.1 35.7L290.7 37.1L292.4 35.8L287.8 35.7L299.0 34.5L292.9 37.1L284.5 34.8L288.0 37.6L292.8 31.7L298.6 32.5L291.6 36.2L292.1 37.8L291.5 38.3L296.9 29.8L297.0 39.9L287.3 37.7L309.6 31.8L286.6 34.6L283.0 36.6L289.4 38.0L289.5 30.7L288.9 34.8L302.0 34.0L297.5 31.5L295.1 33.1L295.1 28.7L297.5 33.3L278.0 36.5L295.5 32.3L285.8 33.3L301.5 32.4L300.8 27.7L291.6 36.1L287.8 34.0L296.3 29.3L294.3 39.4L283.2 31.8L284.7 34.4L295.4 31.4L281.4 34.2L284.1 38.3L285.6 33.1L300.6 37.9L295.2 33.9L289.5 35.8L292.0 35.0L290.6 33.2L289.1 35.3L290.6 36.2L287.9 36.9L283.2 36.3L290.8 37.1L293.2 34.0L292.0 36.5L297.5 33.6L290.3 33.4L285.4 36.7L301.9 33.3L302.2 36.6L285.8 34.1L295.4 35.9L293.5 39.5L289.4 36.1L283.0 39.3L287.0 37.5L287.2 38.4L288.2 36.6L295.9 34.4L288.8 34.1L282.7 33.9L305.5 33.5L302.2 34.0L289.5 39.0L297.5 33.3L291.7 30.1L289.4 33.6L283.0 37.7L292.4 37.5L289.3 32.1L284.5 36.1L295.9 36.2L298.6 33.1L286.6 42.5L301.6 28.9L299.6 32.4L297.4 31.4L287.3 35.0L287.2 35.3L287.0 30.2L286.4 37.6L295.9 34.7L292.6 34.3L294.1 32.4L291.0 33.8L290.9 33.0L296.3 29.3L289.3 33.8L287.4 32.3L287.5 34.7L293.8 39.1L290.6 35.8L291.0 27.8L301.0 32.9L284.3 33.1L286.1 39.4L295.9 32.1L291.5 29.7L290.1 34.4L289.4 35.9L291.4 36.7L292.0 36.0L291.3 38.9L298.7 32.1L291.1 37.6L293.5 37.4L282.2 40.9L283.2 38.5L289.4 35.8L292.5 31.7L287.4 36.2L294.3 28.1L284.0 35.6L292.7 33.6L289.9 31.4L296.3 33.8L294.3 30.3L282.1 36.6L287.3 31.3L293.7 37.0L285.5 34.2L291.2 30.4L291.7 39.8L289.6 35.2L281.6 36.4L292.0 33.3L291.3 38.8L291.0 35.7L282.0 29.3L298.0 36.3L296.3 35.7L294.9 33.9L286.8 39.3L300.9 38.4L284.5 32.0L300.7 37.8L289.7 31.8L285.9 35.1L287.5 34.4L292.6 28.9L292.3 37.8L295.1 38.5L290.3 31.6L296.9 30.4L280.2 35.5L298.1 36.0L294.2 37.9L298.0 34.3L291.7 32.8L295.9 28.4L285.1 33.2L293.2 29.2L291.5 29.3L286.5 38.1L292.1 29.1L286.3 36.0L290.1 34.3L295.5 34.5L295.1 35.3L289.7 37.8L287.5 35.0L286.6 32.9L284.3 34.1L287.8 35.8L289.1 37.7L291.9 32.4L291.2 33.4L295.6 29.9L294.0 33.0L290.6 32.1L294.2 37.1L301.4 33.8L297.1 32.1L285.8 42.2L297.7 32.6L284.7 34.9L289.2 33.6L286.9 30.6L289.2 38.7L293.6 33.7L295.8 34.7L294.7 36.1L288.1 36.4L297.6 35.7L289.3 28.8L288.7 30.8L290.6 41.1L290.1 37.4L299.3 36.4L283.4 40.7L293.5 30.9L289.4 40.1L292.4 36.0L291.7 32.4L294.6 35.0L285.3 41.2L292.9 33.0L298.4 35.3L298.1 33.0L293.9 31.9L286.0 35.5L293.1 33.6L292.1 38.1L285.6 35.0L288.4 39.2L284.9 29.6L289.4 39.3L291.2 34.9L290.4 35.5L289.2 36.4L290.8 36.8L290.0 32.0L293.3 32.4L296.3 34.9L291.5 31.0L294.3 30.6L299.2 33.8L286.0 33.6L297.7 37.2L287.9 39.0L288.8 36.7L289.4 28.2L282.5 33.8L298.3 32.5L291.2 35.0L285.9 40.7L289.6 34.6L293.8 29.2L298.0 33.5L292.9 40.9L299.7 36.1L286.4 32.8L288.1 34.6L302.7 32.1L293.1 30.9L282.4 29.6L287.0 33.1L296.7 33.5L297.1 31.0L297.9 34.2L296.1 35.3L289.5 36.7L291.1 37.7L284.7 37.8L284.2 29.6L305.1 35.3L291.5 31.2L293.7 33.2L294.8 32.5L297.1 31.2L308.8 37.3L281.7 35.9L294.2 27.7L284.9 32.5L293.1 32.6L290.2 39.9L288.5 35.8L283.5 32.2L295.4 35.8L289.9 33.0L293.7 34.7L287.9 34.1L285.1 35.1L297.7 38.9L287.5 36.4L293.6 35.2L300.1 34.4L305.6 33.5L294.6 28.7L289.3 35.7L290.0 32.8L295.7 34.7L291.2 27.3L292.8 40.4L285.0 28.1L293.5 23.9L290.9 31.8L294.7 35.0L299.0 36.6L301.9 29.5L297.3 32.6L290.3 36.9L291.3 35.0L294.1 34.1L292.2 37.7L299.2 35.9L289.6 30.9L283.4 35.2L286.4 35.3L285.5 35.4L289.7 35.9L289.9 29.3L297.9 33.6L293.8 31.4L282.1 37.3L305.8 30.4L289.8 40.2L292.9 34.7L303.3 30.6L289.0 34.5L297.9 35.8L294.5 32.8L295.5 29.6L291.5 41.4L282.4 35.9L294.4 33.9L301.2 32.5L305.7 35.4L283.2 32.4L294.3 37.2L286.6 35.8L289.9 33.2L296.7 31.5L301.7 28.5L300.6 35.1L294.6 32.0L287.3 34.4L288.3 33.9L293.7 40.2L306.1 39.2L292.1 35.4L292.2 34.0L293.8 37.4L301.5 38.9L284.3 33.3L299.2 34.3L287.9 30.6L294.8 33.7L287.0 40.9L295.7 34.2L293.7 28.0L286.8 35.0L296.1 31.4L288.7 36.9L295.4 38.6L291.3 32.2L285.8 34.1L287.8 37.3L293.2 30.9L290.0 37.5L288.3 32.9L287.8 35.2L294.2 33.2L282.4 36.0L295.0 33.2L298.2 33.0L292.5 31.7L290.2 31.9L279.5 37.6L295.8 32.7L292.1 34.3L294.5 32.6L293.3 41.1L292.7 33.6L285.9 37.6L295.0 30.7L294.9 33.9L288.5 33.1L292.7 38.0L286.7 37.0L292.8 28.5L288.0 38.7L294.6 35.1L297.5 39.6L286.8 33.3L290.8 36.2L290.1 33.2L297.7 34.8L294.2 32.3L291.5 38.8L293.5 29.1L296.9 33.5L294.0 30.6L292.5 36.0L298.3 34.4L286.7 33.7L297.5 29.1L294.1 37.6L291.7 36.7L295.5 36.1L292.7 36.2L300.5 31.7L293.5 30.9L288.4 33.6L289.7 31.3L294.5 37.4L292.4 43.0L293.6 33.9L292.9 30.8L288.0 35.2L293.0 31.3L295.8 35.4L287.3 33.8L281.1 37.4L301.3 31.2L285.3 36.5L281.9 31.2L295.8 35.6L298.1 32.1L287.5 33.8L299.1 35.9L300.9 38.1L300.5 38.1L292.5 33.5L288.5 35.5L295.5 34.2L289.1 36.2L291.9 35.8L294.6 34.3L296.9 30.8L299.8 32.1L297.8 29.2L288.0 38.0L295.3 37.7L291.8 33.6L279.5 41.1L285.8 37.7L289.6 32.6L288.6 34.1L293.0 34.7L290.0 31.6L300.2 34.9L299.4 36.4L295.2 31.0L279.3 33.0L298.1 33.5L297.5 32.5L284.6 34.4L287.4 36.1L304.1 38.7L291.9 33.1L285.4 37.0L291.3 34.2L286.3 36.0L296.8 30.7L289.4 34.1L298.7 33.7L302.8 39.0L293.5 35.9L287.6 31.3L290.5 29.7L294.3 32.1L298.5 33.3L293.8 35.2L290.4 40.8L292.0 37.3L290.9 33.8L294.2 35.6L297.5 32.2L295.1 33.0L298.3 29.6L296.3 30.6L293.8 32.9L292.1 32.8L290.7 31.2L287.7 33.5L283.6 38.4L284.9 35.9L299.3 32.1L291.5 29.9L294.5 34.3L292.3 40.5L290.1 38.2L282.9 31.4L293.3 39.4L290.8 34.5L288.3 36.4L298.3 34.1L295.2 28.9L296.2 36.0L293.2 38.3L294.4 34.8L294.7 35.1L284.9 34.8L299.4 34.8L288.5 37.4L291.5 35.0L289.3 35.9L293.4 37.2L290.8 37.8L282.7 36.5L292.4 32.4L292.3 34.5L292.8 36.9L297.4 36.0L286.4 37.7L294.4 35.8L286.4 29.9L296.3 32.4L291.5 35.8L290.3 38.9L287.3 35.0L295.8 29.4L286.4 32.3L299.8 34.3L294.1 32.6L286.4 41.5L291.9 35.2L286.6 35.9L298.8 34.2L298.1 36.1L292.1 36.3L291.8 39.4L278.5 33.4L289.2 39.2L304.1 35.3L291.2 28.3L285.4 37.6L284.4 32.5L290.7 31.4L290.7 37.0L298.2 34.1L287.8 39.6L299.9 31.8L304.7 27.2L293.6 32.4L283.3 40.7L295.5 27.5L293.5 34.9L289.8 32.1L284.8 35.8L293.7 34.6L289.1 31.4L289.6 29.8L296.0 32.5L281.5 32.8L290.9 37.7L295.8 34.6L290.5 35.8L300.3 35.6L288.4 33.0L299.6 34.6L301.3 34.9L273.1 38.0L294.2 36.2L299.9 39.0L292.4 35.6L285.5 40.9L288.4 31.4L301.7 31.2L272.1 43.1L282.4 46.4L281.5 37.9L279.1 49.6L282.3 44.9L273.3 54.3L280.4 46.4L276.2 40.8L272.6 57.2L278.6 39.7L275.8 54.6L283.0 36.8" fill="none" stroke="none" filter="url(#bl)" marker-start="url(#mr)" marker-mid="url(#mr)" marker-end="url(#mr)"/>
<rect x="198.5" y="13.1" width="144.8" height="108.75" fill="none" stroke="#444" stroke-width="0.45"/>
<path d="M234.7 121.85v-1.6M234.7 13.1v1.6M198.5 94.7h1.6M343.3 94.7h-1.6M270.9 121.85v-1.6M270.9 13.1v1.6M198.5 67.5h1.6M343.3 67.5h-1.6M307.1 121.85v-1.6M307.1 13.1v1.6M198.5 40.3h1.6M343.3 40.3h-1.6" stroke="#333" stroke-width="0.5" fill="none"/>
<g font-size="8.4" fill="#000" stroke="#000" stroke-width="0.18">
<text x="196.9" y="124.4" text-anchor="end">−4</text>
<text x="197.2" y="131.4" text-anchor="middle">−4</text>
<text x="196.9" y="97.3" text-anchor="end">−2</text>
<text x="233.4" y="131.4" text-anchor="middle">−2</text>
<text x="196.9" y="70.1" text-anchor="end">0</text>
<text x="270.9" y="131.4" text-anchor="middle">0</text>
<text x="196.9" y="42.9" text-anchor="end">2</text>
<text x="307.1" y="131.4" text-anchor="middle">2</text>
<text x="196.9" y="15.7" text-anchor="end">4</text>
<text x="343.3" y="131.4" text-anchor="middle">4</text>
</g>
<text x="270.9" y="140.6" font-size="9.7" text-anchor="middle" stroke="#000" stroke-width="0.15">Expression of <tspan font-style="italic">FCRL5</tspan></text>
<text transform="translate(182.4 67.5) rotate(-90)" font-size="9.7" text-anchor="middle" stroke="#000" stroke-width="0.15">Expression of <tspan font-style="italic">SDC1</tspan></text>
<path d="M429.2 74.2L442.5 78.1L466.9 66.0L449.5 76.4L441.6 68.7L433.1 64.4L436.2 74.0L440.7 67.4L450.3 60.6L434.9 73.6L440.1 50.0L432.6 67.9L423.1 70.5L439.4 67.2L450.5 63.9L457.4 63.4L441.6 78.9L427.1 81.0L434.2 75.5L441.7 73.9L416.0 72.3L423.3 71.4L435.9 71.2L444.0 66.3L441.9 71.1L457.5 67.3L438.3 73.9L440.0 71.6L455.5 71.2L451.1 69.1L442.8 63.8L458.8 76.4L437.4 74.0L437.9 57.4L427.0 71.3L433.3 72.1L435.0 75.6L451.2 70.0L423.5 67.1L446.1 62.6L441.9 64.3L443.7 64.4L444.7 70.9L442.7 69.0L452.1 74.7L427.1 76.7L466.5 75.4L472.2 64.6L433.5 81.6L450.6 77.7L431.0 71.3L436.3 64.4L424.0 69.8L451.9 74.5L457.5 75.2L425.4 76.0L441.0 69.3L424.2 78.4L430.3 71.9L449.1 78.6L435.5 76.1L446.8 67.4L439.0 64.8L449.0 67.1L440.0 70.5L436.7 73.0L432.6 76.8L457.2 65.8L432.3 75.8L449.9 69.7L441.6 71.2L444.0 79.0L426.4 71.5L447.9 60.8L434.6 64.1L450.3 58.5L447.4 79.8L436.0 73.5L453.4 67.9L460.6 61.4L445.6 70.5L428.6 73.8L451.7 72.4L440.7 64.6L451.1 73.1L433.5 72.3L437.8 59.8L454.3 65.3L461.2 66.1L434.1 66.2L453.3 62.1L435.3 72.7L418.3 77.0L450.5 65.2L457.4 56.9L434.0 74.6L435.3 69.1L425.1 78.4L460.7 75.8L449.6 76.5L443.5 67.4L449.5 73.1L431.4 74.3L438.1 66.0L458.1 70.4L418.3 77.9L453.8 68.0L451.6 74.0L446.9 68.7L441.6 67.2L463.8 71.9L436.1 74.3L429.9 72.0L455.5 63.2L452.2 65.6L425.3 63.4L441.7 66.3L437.8 67.0L469.1 64.2L438.7 68.5L448.2 63.7L431.7 72.7L445.9 70.9L438.5 64.6L429.1 76.5L454.0 70.9L432.5 71.7L438.6 68.4L439.4 71.5L454.6 69.7L440.6 68.3L447.5 70.7L430.4 76.1L441.4 72.0L455.1 74.6L450.1 72.2L437.2 77.8L445.2 65.5L442.7 67.2L438.6 80.2L449.2 73.2L429.7 74.3L433.7 63.2L446.1 68.5L439.4 72.3L428.4 69.6L432.8 72.5L447.0 70.5L450.4 76.6L437.2 67.1L444.1 72.2L441.9 68.9L435.2 62.3L450.3 65.7L435.8 71.5L447.6 74.0L446.9 64.8L430.2 77.1L436.9 68.8L432.3 71.6L436.3 66.9L454.1 66.3L464.9 74.0L454.7 74.7L435.4 66.6L446.2 69.6L445.8 70.4L440.7 68.6L449.3 72.2L446.0 64.6L443.4 61.9L441.9 62.8L456.2 69.7L437.0 68.9L439.4 59.9L441.5 68.7L444.4 60.5L433.5 70.4L457.9 63.5L446.5 66.7L435.8 76.0L438.6 66.4L442.1 71.9L454.8 70.0L452.8 61.6L444.8 75.8L446.1 75.9L471.8 54.9L435.1 80.1L449.4 66.9L448.7 72.8L448.5 69.5L447.8 67.3L447.0 72.7L446.7 77.7L433.1 82.1L442.9 68.1L438.3 69.8L433.4 78.7L443.3 69.0L449.2 71.2L432.2 76.8L448.2 69.8L444.6 68.5L444.1 67.6L440.5 68.0L431.8 77.7L428.1 76.6L436.2 71.0L450.6 78.1L429.3 78.0L448.0 62.7L437.7 61.3L425.1 71.4L438.7 67.1L455.3 65.4L442.7 72.5L444.1 77.3L431.2 66.5L455.1 65.5L427.1 72.3L455.3 71.5L430.4 63.8L453.4 66.6L451.2 69.0L440.2 70.9L444.6 58.2L445.0 70.3L432.4 73.0L442.7 64.9L451.2 63.5L431.6 69.7L444.8 69.4L459.8 65.6L438.2 66.7L442.6 72.1L451.2 67.7L438.9 64.7L444.2 72.2L445.2 71.8L450.6 79.4L461.2 70.9L438.8 71.6L438.9 65.0L450.3 61.7L441.1 74.2L432.3 80.6L454.3 67.7L439.7 71.9L464.2 65.3L437.8 58.0L429.7 73.2L452.7 65.3L453.7 65.7L440.5 72.8L441.5 72.1L444.9 61.3L438.3 72.9L450.0 66.9L435.7 67.6L427.9 71.9L448.9 57.5L430.1 69.3L433.9 80.5L447.9 71.2L434.6 78.6L442.6 62.0L437.9 73.5L428.4 81.2L439.3 72.2L438.9 72.6L450.6 66.6L454.4 63.8L444.0 64.8L449.0 71.7L436.4 65.4L462.6 63.5L440.6 78.1L450.0 64.5L452.5 70.5L429.1 79.0L456.9 78.1L456.5 72.5L423.9 69.1L450.5 57.4L436.3 72.9L434.6 70.4L454.6 75.8L451.8 67.4L448.3 72.3L436.4 77.5L435.8 74.6L444.8 75.3L445.1 73.5L459.9 65.1L441.7 66.0L442.9 75.3L455.0 79.5L450.8 60.8L427.0 70.7L438.9 68.1L442.7 79.2L448.7 62.0L431.4 72.1L447.1 70.8L450.6 72.6L461.2 63.8L448.0 69.6L425.5 72.0L448.5 65.3L455.1 60.9L441.2 71.5L434.3 64.9L450.0 73.1L423.0 75.8L430.6 77.2L441.1 73.9L437.8 73.0L445.9 60.9L444.8 80.2L447.7 73.5L456.3 69.2L447.7 68.4L455.3 76.2L446.3 64.4L454.8 63.2L439.9 73.3L442.1 74.2L449.5 73.5L435.5 64.9L446.9 62.5L465.8 68.0L448.8 59.1L447.1 64.7L462.7 63.6L437.9 71.7L469.0 61.4L432.3 66.1L443.5 78.8L443.1 65.2L449.8 65.0L447.7 68.1L437.7 75.3L415.4 77.3L441.8 74.3L443.3 71.3L461.0 72.9L440.7 71.1L473.8 72.4L446.4 69.4L440.4 77.4L438.3 73.0L448.5 69.1L432.4 70.1L436.4 75.6L448.8 74.5L449.6 70.2L446.1 65.3L437.3 67.6L439.5 65.3L439.9 65.8L436.7 67.9L446.9 75.5L452.5 56.7L438.5 69.0L446.0 71.6L418.3 83.3L444.0 70.0L457.3 72.6L450.9 69.5L446.0 64.8L453.7 64.7L426.9 70.0L461.4 80.4L433.9 70.0L445.8 62.3L446.9 68.3L452.5 65.5L448.7 71.0L432.3 72.0L456.1 62.5L437.2 76.2L447.0 68.6L445.4 68.6L438.2 74.0L424.9 79.1L443.7 59.3L420.2 76.5L447.7 74.4L431.8 72.4L450.5 65.6L428.4 70.6L419.2 70.8L439.1 71.3L435.0 65.8L432.4 67.5L439.3 67.0L432.0 74.1L451.6 58.2L438.7 73.6L441.6 71.7L460.2 65.9L456.5 64.9L441.6 64.4L443.5 67.8L447.1 70.8L454.4 61.4L443.1 73.1L442.3 72.4L449.7 66.7L432.2 74.6L458.5 68.7L427.9 78.8L432.4 74.4L436.4 72.5L459.5 67.3L423.2 76.5L438.6 73.1L443.8 68.1L433.3 61.0L443.9 70.7L452.9 74.1L457.2 62.3L457.8 58.1L435.7 73.7L454.3 66.5L440.3 64.8L451.3 69.6L444.4 71.1L453.4 76.1L452.2 77.0L426.1 66.5L381.9 64.6L414.5 60.7L425.9 78.0L384.8 85.4L430.7 75.6L398.9 80.7L410.3 78.4L444.0 70.8L421.7 83.1L439.0 79.0L406.3 72.1L418.7 70.9L431.0 70.0L435.1 83.4L435.1 71.7L420.6 66.4L452.5 73.5L417.5 82.0L419.4 77.6L441.5 64.3L446.0 64.8L431.4 80.7L439.2 78.5L437.5 71.0L454.0 62.4L407.4 65.0L442.6 90.2L434.1 74.6L418.6 78.5L424.5 73.0L447.9 58.6L442.2 70.7L405.5 81.6L421.4 62.0L426.9 66.0L418.0 72.9L411.1 76.9L425.7 66.7L418.2 70.8L443.7 72.4L401.4 69.1L417.8 78.5L433.2 70.1L398.7 75.8L401.1 78.2L403.6 83.3L421.0 82.4L411.2 70.8L440.2 78.4L432.3 84.7L439.9 79.4L408.2 64.9L431.0 75.7L420.0 78.4L427.0 67.5L419.2 75.1L431.3 62.4L433.5 72.4L441.4 77.2L421.9 77.3L413.9 74.4L449.3 89.5L406.7 79.9L397.7 76.1L435.6 69.0L427.7 73.7L438.4 68.1L404.9 79.6L393.2 80.9L420.6 86.8L453.9 55.8L397.5 67.6L452.0 70.2L415.9 74.2L419.0 81.5L427.1 82.5L428.7 70.9L436.8 75.2L430.5 73.5L407.1 73.7L417.9 85.5L428.5 67.6L438.4 76.3L438.4 62.9L431.7 79.0L411.4 66.8L413.7 67.6L419.7 75.5L431.3 77.4L433.0 70.6L425.1 73.4L412.9 75.5L447.5 78.2L444.4 86.9L422.7 83.3L446.4 80.5L408.6 77.8L406.2 76.3L430.1 69.4L412.9 74.2L441.5 76.2L443.8 74.5L420.1 63.3L398.3 71.1L406.7 73.8L377.5 75.0L415.1 66.9L419.7 72.2L439.3 65.9L420.1 68.4L429.0 87.2L413.5 66.2L446.3 79.8L428.8 75.7L450.6 58.8L406.7 80.3L454.1 69.1L388.4 70.8L404.6 82.9L421.0 85.8L388.8 72.7L461.5 85.2L415.0 73.9L428.1 69.2L388.5 74.3L454.5 73.0L446.8 78.5L418.0 76.0L441.7 73.0L436.9 69.2L427.2 71.0L427.3 68.3L425.9 74.2L433.1 72.5L451.1 51.9L435.1 72.6L432.2 77.3L417.2 78.7L432.4 84.1L440.7 81.8L394.1 86.8L441.8 71.4L400.9 89.0L450.1 71.3L419.4 85.4L455.6 79.1L410.9 75.7L411.0 76.2L423.6 69.7L425.5 72.5L440.0 77.6L415.9 76.8L435.9 68.4L414.4 75.2L435.8 66.6L381.8 84.0L451.0 78.1L441.1 82.6L443.2 66.4L407.5 64.5L411.5 79.0L405.8 80.5L431.0 82.7L401.7 68.6L432.1 76.1L423.0 73.0L409.3 75.1L418.6 86.2L431.0 87.4L391.8 66.5L410.4 67.1L388.5 70.2L451.4 73.8L465.2 77.3L445.3 72.8L418.2 81.9L428.5 72.0L426.8 75.6L465.7 74.5L410.1 73.6L449.7 74.5L420.5 82.1L413.3 81.4L429.8 74.8L386.2 80.0L433.1 68.3L431.9 72.4L462.4 69.2L425.8 84.1L401.0 78.2L428.8 84.1L452.6 76.5L449.7 68.7L409.8 80.5L452.1 75.2L442.1 71.8L421.5 77.9L421.7 66.8L395.4 80.8L412.0 77.3L440.9 63.5L417.2 74.0L418.2 76.2L440.3 59.8L408.4 73.8L406.2 66.2L426.9 69.9L429.0 69.3L425.9 56.0L429.7 70.2L416.5 77.7L408.2 76.4L431.2 73.9L435.7 64.5L412.4 68.0L447.0 70.6L437.2 72.8L402.0 74.4L426.0 65.9L404.8 62.1L455.7 69.5L432.2 80.5L423.4 83.4L463.4 78.2L426.6 60.2L437.8 82.3L458.4 74.4L428.1 73.1L449.8 78.2L462.9 70.1L454.0 92.9L403.7 72.3L417.7 72.4L440.8 65.1L440.1 58.8L422.2 88.6L407.1 60.9L427.4 66.2L428.4 78.9L467.1 61.7L431.3 71.1L444.5 79.8L405.3 78.9L432.3 83.4L419.7 69.0L432.2 75.3L443.5 62.3L434.9 74.8L395.4 78.5L451.7 79.3L428.3 60.6L420.4 76.5L408.4 65.8L435.5 62.7L408.7 72.3L464.5 69.7L400.2 78.5L384.0 77.1L440.8 68.6L418.0 68.6L426.3 64.3L433.4 72.7L446.3 78.7L421.1 79.7L431.9 75.4L418.7 69.0L409.5 67.8L420.9 78.8L451.7 74.8L439.6 87.0L397.2 90.6L417.0 70.7L425.1 54.5L424.3 80.2L394.1 82.9L449.8 80.0L434.9 73.2L419.6 86.4L415.3 58.0L436.3 74.4L410.4 66.2L436.4 80.8L440.1 64.7L410.5 92.1L462.4 80.8L449.5 69.2L417.8 59.8L409.8 74.6L404.2 82.8L448.1 72.2L409.2 88.0L407.3 69.1L432.3 72.4L428.5 73.4L410.6 81.6L404.7 69.2L410.1 90.7L455.5 66.5L434.8 78.8L438.6 83.5L429.6 79.5L434.7 69.8L443.2 64.2L459.8 52.2L446.9 68.1L407.9 75.7L410.9 76.3L454.2 69.3L404.4 80.2L454.1 76.6L417.8 72.6L403.9 71.7L417.1 90.4L384.8 77.2L409.1 78.3L426.4 73.7L394.6 65.1L410.8 60.1L430.1 69.9L430.3 63.9L422.0 67.0L395.8 92.6L385.4 75.0L431.4 88.6L431.5 91.5L422.3 75.8L392.0 79.4L403.6 66.9L387.7 79.2L411.9 87.1L443.4 74.9L425.3 83.6L430.1 68.4L431.8 74.9L437.7 62.5L392.0 75.3L423.7 61.4L415.8 80.1L447.9 76.9L385.6 82.0L425.8 63.8L427.4 71.1L443.1 82.4L436.2 71.5L437.3 88.4L415.3 76.2L429.0 78.6L461.4 58.9L431.3 69.6L397.7 67.6L419.9 74.5L417.0 67.8L413.7 78.5L415.1 72.0L411.0 73.7L399.1 74.7L407.7 75.2L434.6 80.7L425.6 69.9L401.2 76.8L433.1 77.4L400.6 75.3L431.4 67.9L446.5 71.5L424.3 75.2L442.6 65.1L395.2 86.8L420.6 69.5L384.1 80.7L440.1 73.0L387.9 76.6L416.8 61.0L463.3 87.9L406.6 69.6L447.2 68.3L422.4 72.7L438.0 76.6L438.8 72.6L425.6 61.0L414.1 87.2L414.5 63.9L417.2 66.3L423.2 68.8L439.0 66.9L446.2 62.4L452.3 88.4L414.2 76.3L420.9 71.2L424.8 81.0L419.3 71.9L412.5 59.7L436.2 72.7L414.0 78.5L445.1 76.9L404.9 77.8L413.4 80.8L416.3 80.1L438.1 72.2L420.8 63.0L451.4 68.1L393.5 66.1L430.9 79.0L431.8 71.3L419.7 71.9L414.0 83.3L444.6 82.1L447.1 73.1L415.1 55.3L414.0 74.9L399.2 81.9L416.3 67.3L409.1 72.3L430.9 83.3L426.7 78.6L411.4 76.3L415.3 87.4L407.2 82.2L452.4 82.6L433.2 64.8L412.1 84.3L422.0 75.2L452.1 79.7L460.2 78.1L470.9 76.6L440.7 79.1L436.6 64.2L429.2 71.9L409.1 68.4L412.0 79.5L443.5 78.7L431.7 73.6L423.7 65.7L423.2 60.4L405.8 79.4L411.4 97.5L398.7 73.1L418.2 87.7L379.4 79.8L424.7 65.4L427.7 80.5L412.9 83.0L410.2 74.3L404.9 85.1L401.2 73.8L389.4 82.1L390.0 71.5L410.3 81.0L412.9 69.9L439.2 82.0L435.4 62.0L419.6 67.3L418.2 73.8L419.9 77.7L401.8 74.7L420.9 85.2L418.7 79.9L431.0 65.6L442.8 74.3L411.1 66.3L432.1 71.1L419.6 83.3L463.0 86.0L412.8 74.3L447.6 77.3L430.8 76.4L421.5 57.3L436.9 72.1L437.6 78.0L439.1 74.8L432.7 70.8L420.6 81.4L391.0 85.9L414.8 58.2L434.5 63.1L398.1 73.7L454.3 60.8L422.4 78.6L401.8 81.6L405.3 80.0L415.2 83.3L431.3 80.7L435.7 71.8L426.2 72.6L401.0 77.0L456.3 73.9L420.9 66.6L404.2 68.5L426.7 69.0L447.3 62.4L415.2 71.0L430.0 73.3L434.5 69.0L445.6 65.0L411.7 59.6L424.2 74.9L420.0 74.3L426.5 82.6L443.4 77.0L429.8 82.9L444.0 74.8L410.6 76.8L410.4 67.8L410.4 78.6L432.5 88.0L434.9 69.7L441.0 62.4L398.7 79.1L408.8 86.4L442.2 75.6L423.4 75.7L436.4 58.0L418.0 72.5L411.3 73.9L428.0 78.2L450.4 60.5L441.3 85.7L439.3 85.4L388.0 74.3L397.1 65.1L412.8 70.7L436.1 73.9L433.9 73.1L434.3 63.6L410.1 76.2L451.9 66.7L408.0 76.0L445.0 69.2L407.1 90.4L415.4 88.9L420.1 61.0L421.3 70.7L429.0 73.9L380.8 67.4L429.3 76.7L420.7 57.5L418.5 66.1L431.1 83.5L400.3 76.7L437.8 78.5L435.8 78.0L449.0 62.9L415.6 67.4L429.0 71.1L419.2 65.6L408.7 72.7L436.0 82.5L438.0 78.0L434.1 82.9L394.1 74.6L459.8 79.8L446.5 70.6L405.8 83.3L412.9 77.2L401.8 65.5L417.2 69.2L423.8 77.1L443.3 70.2L425.0 77.1L424.9 75.6L442.0 76.8L403.7 77.6L400.3 85.0L446.8 71.4L410.6 80.3L411.5 68.1L404.8 76.6L426.1 86.7L422.7 72.2L400.2 85.9L439.2 80.7L410.5 94.7L440.0 57.1L413.4 85.3L423.5 67.8L414.1 76.7L436.2 66.9L422.6 68.1L417.0 78.4L398.9 80.1L416.6 79.7L427.6 75.8L434.6 71.5L398.7 62.0L398.7 77.6L397.7 73.1L393.6 86.3L398.3 80.9L403.8 79.4L407.9 77.7L457.0 79.0L427.5 73.8L463.4 80.2L436.3 74.9L420.4 80.8L449.3 69.9L428.2 67.1L431.8 68.7L438.5 71.0L421.3 71.0L439.7 73.9L438.2 74.3L409.4 52.6L422.0 68.9L420.2 65.9L414.3 67.0L414.6 56.7L401.4 89.0L418.1 74.1L462.4 77.7L432.1 79.1L423.0 87.9L409.6 69.5L417.6 77.2L423.7 77.8L403.0 72.0L389.3 79.8L398.9 80.6L427.4 81.9L414.3 75.4L411.0 63.9L423.8 71.3L407.8 75.9L432.3 70.8L413.8 69.1L409.6 80.4L414.3 65.6L430.9 70.9L433.7 72.1L393.2 75.3L439.5 70.3L418.3 66.1L447.9 79.2L426.3 85.8L405.9 91.0L439.1 84.2L433.7 67.3L436.0 67.2L441.5 95.6L446.6 93.2L458.4 77.7L457.5 69.1L459.9 56.6L435.6 64.7L433.2 67.8L445.7 55.9L466.7 68.4L448.9 77.0L444.2 82.7L431.4 69.1L445.4 68.0L470.7 90.2L459.5 76.0L404.0 82.0L428.3 68.8L410.3 77.9L437.1 78.0L466.0 82.8L460.0 59.6L443.7 76.9L449.3 80.3L449.2 75.2L435.1 67.4L477.6 69.4L425.6 87.4L452.7 72.8L427.6 71.3L451.5 69.6L429.1 73.2L414.2 74.5L468.9 80.3L451.3 76.6L436.6 72.7L416.1 70.5L423.1 85.1L454.9 67.4L445.6 69.0L445.1 81.3L415.6 67.3L477.6 77.7L446.7 68.4L452.3 87.8L433.8 78.5L426.2 74.3L428.8 68.8L433.4 81.4L429.5 74.9L471.5 76.1L453.5 69.6L438.1 86.8L435.4 76.8L465.8 64.7L464.2 84.7L433.0 67.7L458.2 63.4L431.2 81.7L412.4 79.3L448.6 98.0L437.9 81.9L443.5 92.0L424.7 63.1L419.7 106.7L437.0 72.6L503.8 75.8L447.0 60.9L462.7 71.1L448.4 71.1L453.5 65.4L433.1 89.6L429.2 84.0L450.8 63.4L445.1 69.3L432.6 70.5L459.3 82.7L434.2 68.7L441.8 77.1L432.5 76.5L471.9 69.2L437.3 68.2L465.2 80.0L442.6 79.5L447.1 65.4L437.2 57.9L439.2 58.7L423.7 52.3L447.4 75.3L425.0 81.9L455.2 71.1L443.2 88.5L443.3 77.8L447.3 72.6L448.6 63.7L438.7 77.1L443.7 64.5L430.6 63.7L449.1 72.7L410.9 78.6L415.2 69.5L457.1 86.7L436.7 82.2L462.6 89.3L425.3 75.5L445.5 70.5L442.2 73.7L438.0 77.8L491.5 62.1L439.0 74.8L420.8 90.6L495.6 54.3L442.3 90.6L452.8 67.5L467.3 66.5L406.2 65.1L446.6 71.0L463.3 71.0L454.4 83.0L467.1 53.1L447.0 84.1L451.4 59.2L418.8 83.2L441.5 66.1L455.0 84.7L464.1 72.1L462.9 85.0L449.2 64.8L434.9 77.7L414.0 85.4L450.6 87.0L433.0 76.9L478.3 78.8L413.3 70.8L443.1 66.2L476.8 78.9L472.0 79.5L452.6 68.4L427.0 66.9L399.7 84.2L446.2 69.3L462.1 75.3L441.1 83.4L436.2 63.5L471.0 93.8L447.3 84.3L444.6 78.9L439.4 64.1L433.0 79.3L472.4 95.6L487.3 77.6L446.6 81.0L460.8 88.4L479.9 87.6L439.9 94.5L437.1 84.4L437.6 73.3L432.1 64.8L463.7 82.4L457.3 81.2L436.5 77.1L447.4 70.8L454.8 63.4L480.9 69.0L440.9 83.2L459.2 64.9L457.8 92.6L470.9 62.7L462.0 60.7L424.5 79.5L440.5 83.9L457.2 80.8L440.5 88.3L451.0 74.2L443.4 96.2L482.4 79.9L452.6 73.2L441.6 56.1L436.0 70.7L456.2 66.6L435.3 70.0L449.8 68.9L423.1 85.6L486.1 63.0L436.3 78.7L451.8 47.9L459.6 85.7L456.6 69.3L460.7 77.6L444.3 79.8L446.8 75.7L467.9 72.3L468.1 63.9L466.2 75.5L482.4 75.8L468.6 58.4L450.3 69.9L482.6 83.5L454.7 87.7L429.5 81.2L445.9 72.5L450.4 67.5L460.5 70.3L427.4 75.5L447.6 78.5L446.9 68.8L456.7 90.6L446.6 76.9L440.8 75.7L423.4 89.6" fill="none" stroke="none" filter="url(#bl)" marker-start="url(#mo)" marker-mid="url(#mo)" marker-end="url(#mo)"/>
<path d="M496.4 32.4L497.1 33.2L494.9 40.8L487.3 32.6L493.0 39.5L489.7 39.3L492.4 34.2L498.3 39.0L493.1 35.4L497.6 36.4L488.8 36.6L495.4 36.4L491.4 35.4L494.9 39.0L495.0 36.7L490.6 32.4L486.8 34.9L492.2 36.5L491.3 37.2L495.1 37.3L492.7 35.6L482.5 36.3L493.3 32.9L493.5 32.1L485.0 28.7L497.8 34.3L492.6 34.5L490.1 39.0L495.6 33.7L489.0 39.7L498.6 30.4L486.9 33.6L497.4 34.7L490.7 34.6L493.0 35.4L487.9 37.9L495.6 35.9L494.7 34.4L493.9 36.3L485.0 36.4L492.5 31.7L495.1 34.7L493.5 36.9L494.2 34.7L499.9 34.7L490.8 35.0L488.1 29.6L489.3 36.7L493.0 35.3L490.6 36.8L486.4 40.3L488.7 34.9L497.2 32.4L490.5 37.8L480.3 36.5L494.6 36.3L495.7 33.8L493.8 39.2L498.3 36.0L494.8 35.9L494.9 32.9L487.7 36.4L503.2 33.1L489.8 36.4L491.0 35.5L502.7 40.2L490.0 37.6L490.8 36.8L491.6 31.6L498.2 34.0L497.6 33.9L489.3 34.3L493.3 39.3L490.2 33.4L485.0 31.1L490.9 38.8L494.8 34.6L488.7 39.8L487.2 34.9L495.9 32.8L496.1 34.5L493.6 34.5L497.5 32.6L503.4 33.8L493.2 30.6L490.4 37.4L496.7 34.2L492.8 28.8L505.7 31.8L503.0 29.7L494.4 30.2L493.7 31.9L490.0 32.6L495.9 43.3L497.8 38.6L487.2 35.2L491.8 34.3L492.1 37.2L482.7 37.3L495.1 39.1L495.4 34.6L493.8 36.5L494.0 38.3L494.2 39.5L497.4 36.3L487.6 35.3L493.4 38.6L493.4 32.8L488.1 40.9L494.4 34.6L490.7 35.9L490.9 40.1L486.2 40.4L491.5 34.1L485.6 34.5L486.6 33.2L492.2 33.3L485.8 39.4L500.3 36.3L484.0 33.9L493.8 34.3L488.8 33.3L502.1 34.5L493.2 34.3L492.3 36.4L494.0 42.6L476.4 37.1L488.8 38.3L487.8 30.5L483.4 37.5L498.1 33.4L492.7 32.8L498.7 34.3L491.5 37.0L488.5 39.7L498.7 34.8L488.6 37.3L494.2 32.5L491.8 37.1L492.0 36.2L489.1 35.8L496.7 35.7L493.8 33.9L491.4 38.1L492.8 34.4L486.6 36.1L482.7 37.8L489.1 37.2L497.0 33.9L489.5 35.2L492.0 36.5L496.6 35.2L488.8 33.5L507.6 29.7L485.5 33.4L489.6 34.1L494.6 35.1L491.0 39.0L495.9 33.9L498.7 33.6L499.3 33.0L492.8 36.9L497.5 35.6L503.7 33.6L490.2 32.4L495.0 35.2L483.4 32.6L493.4 32.0L485.9 35.5L498.2 36.7L486.6 30.0L491.3 31.0L484.5 41.1L493.4 30.7L486.8 35.2L491.6 33.7L492.3 28.0L500.1 38.7L489.8 31.8L494.7 34.9L497.4 34.3L498.5 36.8L500.1 35.0L483.2 37.9L488.6 29.7L496.6 37.3L491.2 39.3L489.2 32.8L498.2 35.4L485.3 40.4L495.3 33.9L494.9 37.3L485.2 39.0L491.2 36.9L495.1 38.8L488.3 37.7L487.5 40.1L494.1 33.5L492.5 37.3L494.5 38.7L495.2 42.5L489.8 32.0L486.9 34.3L493.7 33.6L494.4 35.2L496.9 44.2L487.2 35.4L489.3 39.0L488.3 35.0L505.4 37.3L492.8 37.3L493.1 37.1L487.3 42.4L500.2 36.3L499.7 35.2L494.1 38.9L488.9 32.4L484.5 31.5L486.7 36.9L482.7 35.8L483.3 38.3L504.0 35.9L490.7 34.2L492.0 32.5L498.7 35.8L487.3 36.5L490.0 31.8L487.8 38.9L493.3 40.2L491.8 34.3L498.8 29.1L481.8 36.6L485.8 32.6L491.8 32.4L492.2 40.0L497.3 35.8L486.8 36.5L487.9 37.9L495.9 28.3L478.3 37.8L491.7 32.0L497.8 34.5L498.6 32.3L491.4 36.8L497.2 38.6L494.7 31.1L492.3 31.6L496.5 34.5L494.7 35.5L490.9 41.8L487.7 34.5L492.0 35.2L492.4 33.3L492.9 37.7L490.2 33.0L490.3 35.8L491.7 37.0L496.7 39.8L491.8 32.5L495.2 37.3L487.6 36.1L490.9 34.3L488.8 36.4L494.1 29.7L492.8 37.5L489.8 32.5L497.5 30.1L490.4 29.9L489.0 36.5L484.5 33.6L493.6 34.3L493.5 32.3L499.2 34.1L501.8 31.2L504.3 35.4L491.3 36.7L495.5 37.4L496.5 39.4L489.6 33.7L488.5 36.4L485.6 35.7L487.0 35.6L492.9 37.4L504.1 30.4L490.3 30.0L500.7 30.7L496.7 34.2L496.0 33.4L491.2 33.0L490.8 34.3L485.3 35.6L491.3 32.0L492.2 34.2L494.5 36.7L505.8 29.8L496.8 32.0L485.0 41.1L488.0 36.7L491.4 39.1L491.8 35.0L482.6 31.5L491.0 36.7L481.5 38.4L492.3 35.0L489.0 34.1L495.0 34.9L481.1 33.5L489.6 35.2L492.0 32.4L494.4 34.4L495.0 36.4L491.9 35.4L495.0 34.8L492.3 36.7L495.4 34.9L487.3 33.3L491.5 36.3L489.9 30.3L488.8 39.0L492.9 36.7L495.8 39.3L493.6 39.0L493.1 30.7L488.3 38.9L498.2 36.5L502.4 35.6L494.6 37.8L488.4 36.4L492.5 30.1L488.5 36.1L481.5 34.2L495.1 33.6L495.9 38.6L481.0 33.8L497.6 32.5L498.7 30.5L492.7 36.1L485.9 36.9L492.2 32.6L492.5 32.7L491.0 33.2L488.0 34.1L494.7 29.1L490.7 30.5L495.3 35.3L491.9 32.0L493.6 33.7L500.3 34.7L491.1 35.9L500.6 31.7L494.4 29.0L490.2 29.1L488.2 35.0L494.5 35.1L492.2 41.1L488.6 39.7L496.6 42.3L488.9 34.0L490.3 34.9L493.7 34.5L486.6 38.0L488.7 34.1L492.9 34.4L491.6 37.0L480.6 39.6L482.3 34.7L501.7 32.1L486.0 34.5L496.2 33.5L499.2 36.6L493.0 34.6L483.7 36.5L488.3 39.9L498.3 35.2L485.0 41.2L500.0 33.6L488.2 41.2L495.0 38.7L484.1 35.4L490.8 35.8L493.1 34.7L496.4 36.9L497.5 33.9L494.9 32.0L501.8 31.2L487.9 32.8L495.2 39.1L495.3 31.2L494.1 36.1L495.1 34.8L495.1 39.3L493.8 31.9L485.1 37.6L493.0 31.1L494.4 38.3L491.9 33.3L485.0 38.7L489.8 37.0L486.1 36.1L492.0 38.4L494.1 35.8L508.9 28.5L492.4 35.9L493.9 34.8L492.5 39.2L491.3 35.2L493.8 39.4L494.4 38.6L488.8 32.3L488.2 37.4L495.5 36.2L491.2 37.6L497.8 41.4L497.3 36.4L493.3 31.4L500.5 37.2L490.3 38.8L492.7 34.7L493.0 37.5L485.7 32.5L497.4 34.8L487.7 37.1L497.6 35.3L489.2 39.1L490.4 34.7L494.7 33.0L487.6 33.6L489.3 40.6L487.0 35.0L488.3 38.9L487.2 35.5L496.3 30.5L497.2 37.1L490.9 37.5L490.6 36.5L489.7 33.6L491.2 33.0L488.9 38.7L487.1 34.8L490.1 32.6L483.0 35.5L498.8 32.3L493.1 35.9L490.8 36.7L483.7 36.7L491.0 33.3L486.7 33.2L489.0 36.3L494.0 41.3L498.0 30.7L491.5 30.1L484.7 41.0L487.0 28.0L495.5 33.3L493.5 35.7L493.5 35.1L489.3 38.5L490.4 37.9L489.1 35.2L495.7 34.0L496.7 36.7L488.5 41.7L488.4 34.2L493.6 31.7L489.1 40.0L488.9 34.8L495.0 32.9L489.2 38.3L501.4 31.7L497.8 39.0L496.9 41.3L491.9 30.9L505.6 30.5L497.1 35.3L495.8 32.5L493.1 37.5L499.1 34.8L487.8 40.1L489.6 35.0L500.6 29.9L489.5 29.3L483.7 38.3L494.1 37.9L497.9 31.5L493.8 36.1L492.1 33.3L487.4 36.6L492.9 34.8L484.3 43.6L497.2 32.6L489.8 32.2L483.1 31.7L495.3 32.7L492.0 32.4L490.0 33.2L495.5 34.0L494.9 35.4L495.6 37.6L486.1 36.0L487.8 39.5L502.6 34.6L491.8 33.0L485.2 33.4L483.4 35.4L492.4 37.6L489.2 37.6L495.3 32.7L489.8 33.3L494.1 31.3L490.4 36.3L497.1 37.3L497.1 29.8L498.3 31.8L493.9 36.6L494.5 35.0L486.8 35.0L493.7 39.1L498.6 28.0L499.0 38.3L488.2 40.9L487.1 33.8L489.6 33.1L500.5 36.9L493.0 35.1L491.9 34.0L498.3 40.2L490.3 36.5L485.4 30.8L490.9 33.9L495.4 31.7L490.0 35.1L488.8 39.6L488.6 34.8L486.3 42.3L489.7 29.3L494.6 36.0L480.0 30.9L492.3 37.4L495.5 35.7L497.3 36.5L491.1 35.5L489.6 35.9L497.2 31.8L491.5 37.3L493.0 34.1L491.8 35.8L486.9 33.5L493.6 35.0L497.8 34.4L488.6 33.6L491.3 35.8L495.4 33.9L497.3 33.6L493.1 37.8L490.7 36.4L489.6 37.5L487.7 31.8L490.2 33.5L495.7 35.5L501.7 33.3L497.5 33.6L503.4 35.0L491.2 34.4L500.8 34.4L478.3 36.5L494.7 43.0L496.0 32.8L490.3 34.4L487.2 36.3L490.0 41.3L480.0 39.4L493.4 30.5L487.8 33.5L494.8 33.8L489.9 39.4L493.5 35.8L494.4 36.9L497.8 32.6L489.4 32.6L493.3 37.1L499.2 33.3L491.1 29.5L478.7 34.1L498.3 38.0L494.4 37.5L484.9 36.9L494.1 34.9L487.0 39.5L491.3 39.6L493.9 36.9L490.3 35.4L485.3 35.1L496.8 38.2L496.7 35.5L494.2 37.1L485.6 34.3L494.1 36.4L493.4 35.2L494.2 39.7L496.6 39.9L491.1 33.6L497.2 33.6L496.0 36.5L481.2 35.5L490.2 37.2L490.3 36.4L491.0 38.4L493.0 36.4L497.1 29.0L489.0 38.6L500.3 35.5L497.1 36.0L500.7 35.7L491.3 34.4L502.0 32.8L498.4 36.9L494.6 36.8L487.8 34.4L494.5 36.7L480.9 32.6L490.4 36.3L485.3 32.8L492.5 29.8L491.6 32.2L494.6 34.5L494.4 34.7L488.2 39.1L493.0 33.5L492.0 29.3L496.3 26.6L494.2 31.9L483.4 36.0L499.6 34.5L491.1 33.9L485.8 33.6L485.9 39.9L489.3 41.4L492.7 38.5L500.0 30.6L491.1 32.6L501.7 36.7L493.5 37.1L492.6 37.2L495.3 38.1L486.1 37.9L497.3 32.0L489.4 35.4L491.5 36.8L495.6 41.3L501.6 36.7L489.2 32.4L493.3 35.9L486.9 37.9L488.3 35.1L498.5 32.8L492.6 38.8L499.0 37.5L482.6 31.4L486.6 32.0L497.2 29.8L480.1 33.5L495.5 31.2L491.4 32.3L495.4 34.5L494.4 33.3L491.3 32.2L487.4 35.3L492.7 36.2L491.2 33.3L491.1 34.8L492.4 35.5L497.9 39.7L488.5 34.6L494.7 28.9L496.8 31.1L490.5 34.9L485.2 34.3L493.3 38.3L498.1 33.3L483.0 35.0L491.9 34.4L486.5 31.6L495.1 32.4L491.7 37.8L495.7 30.6L490.7 36.4L490.4 32.8L489.6 31.1L494.4 37.2L493.9 37.8L492.4 31.6L482.7 35.9L492.3 38.2L496.8 33.1L492.0 37.2L492.4 30.5L487.0 36.5L489.4 32.2L490.0 35.2L502.3 38.0L504.7 39.1L491.8 34.5L496.0 33.0L490.0 36.2L497.8 29.5L485.9 38.8L482.2 37.8L496.6 35.5L502.0 33.9L498.8 30.2L492.3 39.6L491.4 40.9L490.7 34.3L493.2 38.6L492.9 35.7L490.0 31.4L481.5 33.3L496.3 36.6L491.5 34.2L503.4 34.4L484.6 41.2L496.8 36.4L489.7 36.2L495.7 39.2L489.0 36.2L495.5 34.4L490.0 40.5L501.3 36.2L500.5 42.7L493.8 31.5L492.6 32.1L507.0 31.9L483.1 32.9L495.7 37.0L491.7 39.3L496.1 39.5L491.7 35.5L483.4 36.5L495.6 34.8L498.7 33.6L492.7 33.9L489.9 42.2L489.6 33.8L495.9 28.6L492.7 27.6L486.9 33.8L489.5 33.0L498.5 36.3L501.5 31.3L494.8 32.4L490.8 39.9L488.2 35.6L490.5 34.4L492.3 35.3L488.0 39.5L499.3 35.9L487.3 37.7L486.3 46.4L496.4 35.7L489.1 32.0L494.4 38.0L485.9 32.2L504.5 30.4L491.7 38.1L494.2 34.0L492.3 36.1L497.8 33.1L495.4 34.3L494.9 34.1L488.1 35.7L490.6 40.1L489.4 35.2L495.6 35.0L506.4 31.5L497.1 41.1L490.4 37.8L491.1 36.4L489.6 35.8L493.0 33.7L490.8 42.8L492.8 37.1L496.2 30.3L488.6 39.5L496.9 31.7L495.8 35.5L502.4 33.2L487.0 38.2L490.6 30.4L485.9 32.6L487.5 32.9L501.7 35.5L497.8 27.1L491.4 36.0L497.3 37.2L503.7 25.5L492.6 35.1L499.5 33.7L490.4 36.1L490.1 38.5L489.4 33.4L488.9 35.1L494.0 38.0L489.9 37.2L496.1 32.0L501.1 34.8L487.1 33.8L494.0 34.7L489.5 36.3L495.6 33.2L491.2 35.3L486.1 36.0L494.3 34.4L483.2 39.9L494.6 37.3L492.0 39.4L489.0 33.9L497.2 36.7L499.7 33.3L498.7 35.7L495.2 36.8L485.9 32.1L504.1 34.8L492.3 38.6L494.7 34.1L483.6 34.0L493.5 34.7L494.3 35.4L500.4 38.7L492.8 32.2L490.7 41.6L494.0 36.9L492.1 38.8L487.8 37.2L488.2 33.7L502.4 33.4L484.5 37.3L486.3 35.6L494.4 34.0L485.2 33.2L486.2 40.4L489.7 40.3L493.1 35.8L488.6 35.4L486.6 38.7L487.4 35.4L493.7 38.7L488.9 35.3L488.2 36.5L493.0 34.0L489.0 34.1L483.3 39.6L485.7 46.2L488.3 38.9L483.1 40.5L488.0 39.5L496.9 31.7L488.6 38.5L480.4 39.4L485.5 40.2L497.0 33.9L496.8 32.8L502.9 32.1L496.2 37.3L491.4 36.3L493.4 32.6L490.2 34.7L485.5 37.3L488.4 37.6L488.4 34.7L496.9 38.9L499.9 36.3L489.5 36.5L493.1 33.7L486.7 32.5L494.5 33.1L489.8 38.9L492.7 38.1L492.8 33.9L501.9 35.6L496.2 34.1L495.4 33.4L497.2 35.7L488.7 35.3L491.5 35.7L485.4 32.9L495.0 36.9L495.3 29.3L498.4 37.9L489.5 32.9L498.6 34.1L500.3 35.4L483.7 37.1L493.4 34.9L490.9 36.0L499.7 37.1L483.0 40.1L487.0 38.9L484.7 35.2L490.7 29.6L497.2 34.8L497.5 36.4L495.2 37.5L491.8 30.6L502.6 36.6L497.6 35.4L486.1 34.7L489.5 35.5L481.5 41.6L498.0 34.0L491.4 36.3L498.1 37.9L494.5 37.0L496.0 37.7L484.8 35.9L483.4 39.2L492.2 36.2L492.4 36.1L495.5 40.6L492.7 33.1L502.5 33.8L487.7 32.7L492.0 34.0L481.7 34.1L495.2 36.5L486.7 36.1L495.2 35.3L490.8 36.4L493.7 35.7L497.5 28.7L484.1 32.8L492.7 34.9L488.2 33.9L501.0 32.0L497.3 34.3L493.4 29.9L489.5 36.2L485.2 37.4L496.1 35.0L494.0 34.8L488.1 36.8L491.2 32.5L489.5 33.2L493.1 39.1L499.9 38.5L485.9 35.7L495.8 37.5L490.5 36.2L491.6 38.1L495.8 29.6L497.0 34.2L487.7 42.2L488.5 36.1L492.5 34.5L500.9 39.9L483.0 38.6L486.3 33.5L490.1 34.5L486.6 32.0L488.1 32.6L494.2 36.2L491.2 34.4L487.0 30.8L487.8 36.3L481.7 37.1L489.7 34.5L495.2 37.9L491.9 36.4L496.4 33.9L493.9 36.7L501.3 33.5L482.2 35.3L486.7 36.9L487.7 38.6L493.8 33.4L499.3 33.4L488.5 31.2L495.1 33.3L496.1 36.0L506.9 34.4L485.7 35.5L488.3 28.9L491.0 39.5L493.2 35.3L485.2 39.9L488.8 33.3L496.1 34.1L502.1 32.5L503.7 33.6L483.0 36.5L491.7 35.0L480.6 36.7L487.4 37.9L495.6 37.7L493.9 37.1L486.4 34.9L493.4 36.7L507.4 33.2L489.8 34.0L510.7 37.9L492.6 38.4L477.0 51.7L480.3 39.2L486.5 45.1L483.3 44.6L469.8 56.3L481.3 38.3L485.9 47.3L481.5 45.5L479.3 48.1L483.8 39.9L481.9 43.6L485.9 45.3L498.3 38.5L486.7 41.6" fill="none" stroke="none" filter="url(#bl)" marker-start="url(#mr)" marker-mid="url(#mr)" marker-end="url(#mr)"/>
<rect x="372.7" y="13.1" width="144.8" height="108.75" fill="none" stroke="#444" stroke-width="0.45"/>
<path d="M408.9 121.85v-1.6M408.9 13.1v1.6M372.7 94.7h1.6M517.5 94.7h-1.6M445.1 121.85v-1.6M445.1 13.1v1.6M372.7 67.5h1.6M517.5 67.5h-1.6M481.3 121.85v-1.6M481.3 13.1v1.6M372.7 40.3h1.6M517.5 40.3h-1.6" stroke="#333" stroke-width="0.5" fill="none"/>
<g font-size="8.4" fill="#000" stroke="#000" stroke-width="0.18">
<text x="371.1" y="124.4" text-anchor="end">−4</text>
<text x="371.4" y="131.4" text-anchor="middle">−4</text>
<text x="371.1" y="97.3" text-anchor="end">−2</text>
<text x="407.6" y="131.4" text-anchor="middle">−2</text>
<text x="371.1" y="70.1" text-anchor="end">0</text>
<text x="445.1" y="131.4" text-anchor="middle">0</text>
<text x="371.1" y="42.9" text-anchor="end">2</text>
<text x="481.3" y="131.4" text-anchor="middle">2</text>
<text x="371.1" y="15.7" text-anchor="end">4</text>
<text x="517.5" y="131.4" text-anchor="middle">4</text>
</g>
<text x="445.1" y="140.6" font-size="9.7" text-anchor="middle" stroke="#000" stroke-width="0.15">Expression of <tspan font-style="italic">TNFRSF17</tspan></text>
<text transform="translate(356.6 67.5) rotate(-90)" font-size="9.7" text-anchor="middle" stroke="#000" stroke-width="0.15">Expression of <tspan font-style="italic">SDC1</tspan></text>
<rect x="451.2" y="103.9" width="65.6" height="16.1" fill="#fff" stroke="#777" stroke-width="0.6"/>
<circle cx="458.5" cy="108.6" r="0.8" fill="#f00" fill-opacity="0.55"/>
<circle cx="458.5" cy="116.2" r="1.25" fill="none" stroke="#000" stroke-opacity="0.6" stroke-width="0.6"/>
<g font-size="6.6" fill="#000" stroke="#000" stroke-width="0.12"><text x="463.9" y="110.4">Multiple myeloma</text><text x="463.9" y="118.1">Leukemia</text></g>
<text x="0.3" y="8.5" font-size="10.3" font-weight="bold">A</text>
<text x="-0.6" y="160.2" font-size="10.6" font-weight="bold">B</text>
<g shape-rendering="crispEdges">
<rect x="12.30" y="253.20" width="11.67" height="11.48" fill="rgb(3,47,126)"/>
<rect x="12.30" y="264.63" width="11.67" height="11.48" fill="rgb(2,29,82)"/>
<rect x="12.30" y="276.07" width="11.67" height="11.48" fill="rgb(102,0,0)"/>
<rect x="12.30" y="287.50" width="11.67" height="11.48" fill="rgb(9,0,0)"/>
<rect x="12.30" y="298.93" width="11.67" height="11.48" fill="rgb(23,0,0)"/>
<rect x="12.30" y="310.37" width="11.67" height="11.48" fill="rgb(4,0,0)"/>
<rect x="23.92" y="253.20" width="11.67" height="11.48" fill="rgb(1,20,58)"/>
<rect x="23.92" y="264.63" width="11.67" height="11.48" fill="rgb(0,10,29)"/>
<rect x="23.92" y="276.07" width="11.67" height="11.48" fill="rgb(7,104,255)"/>
<rect x="23.92" y="287.50" width="11.67" height="11.48" fill="rgb(9,0,0)"/>
<rect x="23.92" y="298.93" width="11.67" height="11.48" fill="rgb(1,13,38)"/>
<rect x="23.92" y="310.37" width="11.67" height="11.48" fill="rgb(65,0,0)"/>
<rect x="35.53" y="253.20" width="11.67" height="11.48" fill="rgb(1,18,53)"/>
<rect x="35.53" y="264.63" width="11.67" height="11.48" fill="rgb(1,13,38)"/>
<rect x="35.53" y="276.07" width="11.67" height="11.48" fill="rgb(7,104,255)"/>
<rect x="35.53" y="287.50" width="11.67" height="11.48" fill="rgb(7,0,0)"/>
<rect x="35.53" y="298.93" width="11.67" height="11.48" fill="rgb(0,3,9)"/>
<rect x="35.53" y="310.37" width="11.67" height="11.48" fill="rgb(55,0,0)"/>
<rect x="47.15" y="253.20" width="11.67" height="11.48" fill="rgb(0,11,33)"/>
<rect x="47.15" y="264.63" width="11.67" height="11.48" fill="rgb(0,11,33)"/>
<rect x="47.15" y="276.07" width="11.67" height="11.48" fill="rgb(7,104,255)"/>
<rect x="47.15" y="287.50" width="11.67" height="11.48" fill="rgb(13,0,0)"/>
<rect x="47.15" y="298.93" width="11.67" height="11.48" fill="rgb(1,18,53)"/>
<rect x="47.15" y="310.37" width="11.67" height="11.48" fill="rgb(120,0,0)"/>
<rect x="58.76" y="253.20" width="11.67" height="11.48" fill="rgb(0,3,9)"/>
<rect x="58.76" y="264.63" width="11.67" height="11.48" fill="rgb(7,0,0)"/>
<rect x="58.76" y="276.07" width="11.67" height="11.48" fill="rgb(2,31,87)"/>
<rect x="58.76" y="287.50" width="11.67" height="11.48" fill="rgb(55,0,0)"/>
<rect x="58.76" y="298.93" width="11.67" height="11.48" fill="rgb(1,20,58)"/>
<rect x="58.76" y="310.37" width="11.67" height="11.48" fill="rgb(130,0,0)"/>
<rect x="70.38" y="253.20" width="11.67" height="11.48" fill="rgb(3,45,121)"/>
<rect x="70.38" y="264.63" width="11.67" height="11.48" fill="rgb(2,31,87)"/>
<rect x="70.38" y="276.07" width="11.67" height="11.48" fill="rgb(83,0,0)"/>
<rect x="70.38" y="287.50" width="11.67" height="11.48" fill="rgb(55,0,0)"/>
<rect x="70.38" y="298.93" width="11.67" height="11.48" fill="rgb(0,8,24)"/>
<rect x="70.38" y="310.37" width="11.67" height="11.48" fill="rgb(4,59,155)"/>
<rect x="81.99" y="253.20" width="11.67" height="11.48" fill="rgb(3,47,126)"/>
<rect x="81.99" y="264.63" width="11.67" height="11.48" fill="rgb(2,29,82)"/>
<rect x="81.99" y="276.07" width="11.67" height="11.48" fill="rgb(116,0,0)"/>
<rect x="81.99" y="287.50" width="11.67" height="11.48" fill="rgb(9,0,0)"/>
<rect x="81.99" y="298.93" width="11.67" height="11.48" fill="rgb(0,3,9)"/>
<rect x="81.99" y="310.37" width="11.67" height="11.48" fill="rgb(83,0,0)"/>
<rect x="93.61" y="253.20" width="11.67" height="11.48" fill="rgb(3,48,130)"/>
<rect x="93.61" y="264.63" width="11.67" height="11.48" fill="rgb(2,35,97)"/>
<rect x="93.61" y="276.07" width="11.67" height="11.48" fill="rgb(93,0,0)"/>
<rect x="93.61" y="287.50" width="11.67" height="11.48" fill="rgb(4,0,0)"/>
<rect x="93.61" y="298.93" width="11.67" height="11.48" fill="rgb(9,0,0)"/>
<rect x="93.61" y="310.37" width="11.67" height="11.48" fill="rgb(5,71,184)"/>
<rect x="105.22" y="253.20" width="11.67" height="11.48" fill="rgb(3,45,121)"/>
<rect x="105.22" y="264.63" width="11.67" height="11.48" fill="rgb(2,25,72)"/>
<rect x="105.22" y="276.07" width="11.67" height="11.48" fill="rgb(83,0,0)"/>
<rect x="105.22" y="287.50" width="11.67" height="11.48" fill="rgb(9,0,0)"/>
<rect x="105.22" y="298.93" width="11.67" height="11.48" fill="rgb(23,0,0)"/>
<rect x="105.22" y="310.37" width="11.67" height="11.48" fill="rgb(65,0,0)"/>
<rect x="116.84" y="253.20" width="11.67" height="11.48" fill="rgb(3,45,121)"/>
<rect x="116.84" y="264.63" width="11.67" height="11.48" fill="rgb(1,18,53)"/>
<rect x="116.84" y="276.07" width="11.67" height="11.48" fill="rgb(55,0,0)"/>
<rect x="116.84" y="287.50" width="11.67" height="11.48" fill="rgb(37,0,0)"/>
<rect x="116.84" y="298.93" width="11.67" height="11.48" fill="rgb(9,0,0)"/>
<rect x="116.84" y="310.37" width="11.67" height="11.48" fill="rgb(5,71,184)"/>
<rect x="128.45" y="253.20" width="11.67" height="11.48" fill="rgb(3,43,116)"/>
<rect x="128.45" y="264.63" width="11.67" height="11.48" fill="rgb(2,33,92)"/>
<rect x="128.45" y="276.07" width="11.67" height="11.48" fill="rgb(37,0,0)"/>
<rect x="128.45" y="287.50" width="11.67" height="11.48" fill="rgb(55,0,0)"/>
<rect x="128.45" y="298.93" width="11.67" height="11.48" fill="rgb(1,15,43)"/>
<rect x="128.45" y="310.37" width="11.67" height="11.48" fill="rgb(5,65,169)"/>
<rect x="140.07" y="253.20" width="11.67" height="11.48" fill="rgb(0,10,29)"/>
<rect x="140.07" y="264.63" width="11.67" height="11.48" fill="rgb(2,27,77)"/>
<rect x="140.07" y="276.07" width="11.67" height="11.48" fill="rgb(9,0,0)"/>
<rect x="140.07" y="287.50" width="11.67" height="11.48" fill="rgb(2,29,82)"/>
<rect x="140.07" y="298.93" width="11.67" height="11.48" fill="rgb(1,16,48)"/>
<rect x="140.07" y="310.37" width="11.67" height="11.48" fill="rgb(4,59,155)"/>
<rect x="151.68" y="253.20" width="11.67" height="11.48" fill="rgb(1,18,53)"/>
<rect x="151.68" y="264.63" width="11.67" height="11.48" fill="rgb(3,45,121)"/>
<rect x="151.68" y="276.07" width="11.67" height="11.48" fill="rgb(65,0,0)"/>
<rect x="151.68" y="287.50" width="11.67" height="11.48" fill="rgb(2,24,67)"/>
<rect x="151.68" y="298.93" width="11.67" height="11.48" fill="rgb(0,4,14)"/>
<rect x="151.68" y="310.37" width="11.67" height="11.48" fill="rgb(2,29,82)"/>
<rect x="163.30" y="253.20" width="11.67" height="11.48" fill="rgb(65,0,0)"/>
<rect x="163.30" y="264.63" width="11.67" height="11.48" fill="rgb(3,45,121)"/>
<rect x="163.30" y="276.07" width="11.67" height="11.48" fill="rgb(27,0,0)"/>
<rect x="163.30" y="287.50" width="11.67" height="11.48" fill="rgb(46,0,0)"/>
<rect x="163.30" y="298.93" width="11.67" height="11.48" fill="rgb(0,8,24)"/>
<rect x="163.30" y="310.37" width="11.67" height="11.48" fill="rgb(102,0,0)"/>
<rect x="174.92" y="253.20" width="11.67" height="11.48" fill="rgb(3,43,116)"/>
<rect x="174.92" y="264.63" width="11.67" height="11.48" fill="rgb(2,29,82)"/>
<rect x="174.92" y="276.07" width="11.67" height="11.48" fill="rgb(83,0,0)"/>
<rect x="174.92" y="287.50" width="11.67" height="11.48" fill="rgb(55,0,0)"/>
<rect x="174.92" y="298.93" width="11.67" height="11.48" fill="rgb(1,18,53)"/>
<rect x="174.92" y="310.37" width="11.67" height="11.48" fill="rgb(4,50,135)"/>
<rect x="186.53" y="253.20" width="11.67" height="11.48" fill="rgb(55,0,0)"/>
<rect x="186.53" y="264.63" width="11.67" height="11.48" fill="rgb(2,27,77)"/>
<rect x="186.53" y="276.07" width="11.67" height="11.48" fill="rgb(13,0,0)"/>
<rect x="186.53" y="287.50" width="11.67" height="11.48" fill="rgb(55,0,0)"/>
<rect x="186.53" y="298.93" width="11.67" height="11.48" fill="rgb(0,10,29)"/>
<rect x="186.53" y="310.37" width="11.67" height="11.48" fill="rgb(102,0,0)"/>
<rect x="198.15" y="253.20" width="11.67" height="11.48" fill="rgb(2,27,77)"/>
<rect x="198.15" y="264.63" width="11.67" height="11.48" fill="rgb(2,27,77)"/>
<rect x="198.15" y="276.07" width="11.67" height="11.48" fill="rgb(46,0,0)"/>
<rect x="198.15" y="287.50" width="11.67" height="11.48" fill="rgb(55,0,0)"/>
<rect x="198.15" y="298.93" width="11.67" height="11.48" fill="rgb(1,16,48)"/>
<rect x="198.15" y="310.37" width="11.67" height="11.48" fill="rgb(1,13,38)"/>
<rect x="209.76" y="253.20" width="11.67" height="11.48" fill="rgb(2,24,67)"/>
<rect x="209.76" y="264.63" width="11.67" height="11.48" fill="rgb(1,16,48)"/>
<rect x="209.76" y="276.07" width="11.67" height="11.48" fill="rgb(74,0,0)"/>
<rect x="209.76" y="287.50" width="11.67" height="11.48" fill="rgb(46,0,0)"/>
<rect x="209.76" y="298.93" width="11.67" height="11.48" fill="rgb(1,16,48)"/>
<rect x="209.76" y="310.37" width="11.67" height="11.48" fill="rgb(4,63,164)"/>
<rect x="221.38" y="253.20" width="11.67" height="11.48" fill="rgb(2,24,67)"/>
<rect x="221.38" y="264.63" width="11.67" height="11.48" fill="rgb(2,24,67)"/>
<rect x="221.38" y="276.07" width="11.67" height="11.48" fill="rgb(4,50,135)"/>
<rect x="221.38" y="287.50" width="11.67" height="11.48" fill="rgb(27,0,0)"/>
<rect x="221.38" y="298.93" width="11.67" height="11.48" fill="rgb(1,13,38)"/>
<rect x="221.38" y="310.37" width="11.67" height="11.48" fill="rgb(4,61,160)"/>
<rect x="232.99" y="253.20" width="11.67" height="11.48" fill="rgb(1,22,63)"/>
<rect x="232.99" y="264.63" width="11.67" height="11.48" fill="rgb(2,33,92)"/>
<rect x="232.99" y="276.07" width="11.67" height="11.48" fill="rgb(7,104,255)"/>
<rect x="232.99" y="287.50" width="11.67" height="11.48" fill="rgb(18,0,0)"/>
<rect x="232.99" y="298.93" width="11.67" height="11.48" fill="rgb(1,16,48)"/>
<rect x="232.99" y="310.37" width="11.67" height="11.48" fill="rgb(4,63,164)"/>
<rect x="244.61" y="253.20" width="11.67" height="11.48" fill="rgb(3,43,116)"/>
<rect x="244.61" y="264.63" width="11.67" height="11.48" fill="rgb(2,27,77)"/>
<rect x="244.61" y="276.07" width="11.67" height="11.48" fill="rgb(65,0,0)"/>
<rect x="244.61" y="287.50" width="11.67" height="11.48" fill="rgb(23,0,0)"/>
<rect x="244.61" y="298.93" width="11.67" height="11.48" fill="rgb(9,0,0)"/>
<rect x="244.61" y="310.37" width="11.67" height="11.48" fill="rgb(4,55,145)"/>
<rect x="256.22" y="253.20" width="11.67" height="11.48" fill="rgb(3,47,126)"/>
<rect x="256.22" y="264.63" width="11.67" height="11.48" fill="rgb(2,29,82)"/>
<rect x="256.22" y="276.07" width="11.67" height="11.48" fill="rgb(93,0,0)"/>
<rect x="256.22" y="287.50" width="11.67" height="11.48" fill="rgb(9,0,0)"/>
<rect x="256.22" y="298.93" width="11.67" height="11.48" fill="rgb(9,0,0)"/>
<rect x="256.22" y="310.37" width="11.67" height="11.48" fill="rgb(4,63,164)"/>
<rect x="267.84" y="253.20" width="11.67" height="11.48" fill="rgb(3,43,116)"/>
<rect x="267.84" y="264.63" width="11.67" height="11.48" fill="rgb(2,29,82)"/>
<rect x="267.84" y="276.07" width="11.67" height="11.48" fill="rgb(74,0,0)"/>
<rect x="267.84" y="287.50" width="11.67" height="11.48" fill="rgb(46,0,0)"/>
<rect x="267.84" y="298.93" width="11.67" height="11.48" fill="rgb(0,3,9)"/>
<rect x="267.84" y="310.37" width="11.67" height="11.48" fill="rgb(5,74,189)"/>
<rect x="279.45" y="253.20" width="11.67" height="11.48" fill="rgb(3,45,121)"/>
<rect x="279.45" y="264.63" width="11.67" height="11.48" fill="rgb(2,29,82)"/>
<rect x="279.45" y="276.07" width="11.67" height="11.48" fill="rgb(74,0,0)"/>
<rect x="279.45" y="287.50" width="11.67" height="11.48" fill="rgb(0,4,14)"/>
<rect x="279.45" y="298.93" width="11.67" height="11.48" fill="rgb(0,8,24)"/>
<rect x="279.45" y="310.37" width="11.67" height="11.48" fill="rgb(4,63,164)"/>
<rect x="291.07" y="253.20" width="11.67" height="11.48" fill="rgb(3,45,121)"/>
<rect x="291.07" y="264.63" width="11.67" height="11.48" fill="rgb(2,29,82)"/>
<rect x="291.07" y="276.07" width="11.67" height="11.48" fill="rgb(55,0,0)"/>
<rect x="291.07" y="287.50" width="11.67" height="11.48" fill="rgb(0,10,29)"/>
<rect x="291.07" y="298.93" width="11.67" height="11.48" fill="rgb(9,0,0)"/>
<rect x="291.07" y="310.37" width="11.67" height="11.48" fill="rgb(6,82,208)"/>
<rect x="302.68" y="253.20" width="11.67" height="11.48" fill="rgb(3,45,121)"/>
<rect x="302.68" y="264.63" width="11.67" height="11.48" fill="rgb(2,29,82)"/>
<rect x="302.68" y="276.07" width="11.67" height="11.48" fill="rgb(83,0,0)"/>
<rect x="302.68" y="287.50" width="11.67" height="11.48" fill="rgb(0,4,14)"/>
<rect x="302.68" y="298.93" width="11.67" height="11.48" fill="rgb(9,0,0)"/>
<rect x="302.68" y="310.37" width="11.67" height="11.48" fill="rgb(5,67,174)"/>
<rect x="314.30" y="253.20" width="11.67" height="11.48" fill="rgb(3,43,116)"/>
<rect x="314.30" y="264.63" width="11.67" height="11.48" fill="rgb(2,24,67)"/>
<rect x="314.30" y="276.07" width="11.67" height="11.48" fill="rgb(111,0,0)"/>
<rect x="314.30" y="287.50" width="11.67" height="11.48" fill="rgb(102,0,0)"/>
<rect x="314.30" y="298.93" width="11.67" height="11.48" fill="rgb(0,10,29)"/>
<rect x="314.30" y="310.37" width="11.67" height="11.48" fill="rgb(4,63,164)"/>
<rect x="325.92" y="253.20" width="11.67" height="11.48" fill="rgb(3,45,121)"/>
<rect x="325.92" y="264.63" width="11.67" height="11.48" fill="rgb(2,25,72)"/>
<rect x="325.92" y="276.07" width="11.67" height="11.48" fill="rgb(111,0,0)"/>
<rect x="325.92" y="287.50" width="11.67" height="11.48" fill="rgb(55,0,0)"/>
<rect x="325.92" y="298.93" width="11.67" height="11.48" fill="rgb(0,3,9)"/>
<rect x="325.92" y="310.37" width="11.67" height="11.48" fill="rgb(4,55,145)"/>
<rect x="337.53" y="253.20" width="11.67" height="11.48" fill="rgb(3,43,116)"/>
<rect x="337.53" y="264.63" width="11.67" height="11.48" fill="rgb(2,25,72)"/>
<rect x="337.53" y="276.07" width="11.67" height="11.48" fill="rgb(102,0,0)"/>
<rect x="337.53" y="287.50" width="11.67" height="11.48" fill="rgb(55,0,0)"/>
<rect x="337.53" y="298.93" width="11.67" height="11.48" fill="rgb(0,7,21)"/>
<rect x="337.53" y="310.37" width="11.67" height="11.48" fill="rgb(4,61,160)"/>
<rect x="349.15" y="253.20" width="11.67" height="11.48" fill="rgb(2,33,92)"/>
<rect x="349.15" y="264.63" width="11.67" height="11.48" fill="rgb(2,25,72)"/>
<rect x="349.15" y="276.07" width="11.67" height="11.48" fill="rgb(83,0,0)"/>
<rect x="349.15" y="287.50" width="11.67" height="11.48" fill="rgb(4,0,0)"/>
<rect x="349.15" y="298.93" width="11.67" height="11.48" fill="rgb(32,0,0)"/>
<rect x="349.15" y="310.37" width="11.67" height="11.48" fill="rgb(4,50,135)"/>
<rect x="360.76" y="253.20" width="11.67" height="11.48" fill="rgb(3,43,116)"/>
<rect x="360.76" y="264.63" width="11.67" height="11.48" fill="rgb(2,35,97)"/>
<rect x="360.76" y="276.07" width="11.67" height="11.48" fill="rgb(102,0,0)"/>
<rect x="360.76" y="287.50" width="11.67" height="11.48" fill="rgb(4,0,0)"/>
<rect x="360.76" y="298.93" width="11.67" height="11.48" fill="rgb(37,0,0)"/>
<rect x="360.76" y="310.37" width="11.67" height="11.48" fill="rgb(55,0,0)"/>
<rect x="372.38" y="253.20" width="11.67" height="11.48" fill="rgb(2,33,92)"/>
<rect x="372.38" y="264.63" width="11.67" height="11.48" fill="rgb(2,27,77)"/>
<rect x="372.38" y="276.07" width="11.67" height="11.48" fill="rgb(74,0,0)"/>
<rect x="372.38" y="287.50" width="11.67" height="11.48" fill="rgb(74,0,0)"/>
<rect x="372.38" y="298.93" width="11.67" height="11.48" fill="rgb(9,0,0)"/>
<rect x="372.38" y="310.37" width="11.67" height="11.48" fill="rgb(6,89,223)"/>
<rect x="383.99" y="253.20" width="11.67" height="11.48" fill="rgb(3,41,111)"/>
<rect x="383.99" y="264.63" width="11.67" height="11.48" fill="rgb(2,29,82)"/>
<rect x="383.99" y="276.07" width="11.67" height="11.48" fill="rgb(0,11,33)"/>
<rect x="383.99" y="287.50" width="11.67" height="11.48" fill="rgb(74,0,0)"/>
<rect x="383.99" y="298.93" width="11.67" height="11.48" fill="rgb(0,8,24)"/>
<rect x="383.99" y="310.37" width="11.67" height="11.48" fill="rgb(5,71,184)"/>
<rect x="395.61" y="253.20" width="11.67" height="11.48" fill="rgb(3,45,121)"/>
<rect x="395.61" y="264.63" width="11.67" height="11.48" fill="rgb(2,24,67)"/>
<rect x="395.61" y="276.07" width="11.67" height="11.48" fill="rgb(74,0,0)"/>
<rect x="395.61" y="287.50" width="11.67" height="11.48" fill="rgb(93,0,0)"/>
<rect x="395.61" y="298.93" width="11.67" height="11.48" fill="rgb(0,3,9)"/>
<rect x="395.61" y="310.37" width="11.67" height="11.48" fill="rgb(5,65,169)"/>
<rect x="407.22" y="253.20" width="11.67" height="11.48" fill="rgb(2,27,77)"/>
<rect x="407.22" y="264.63" width="11.67" height="11.48" fill="rgb(1,15,43)"/>
<rect x="407.22" y="276.07" width="11.67" height="11.48" fill="rgb(41,0,0)"/>
<rect x="407.22" y="287.50" width="11.67" height="11.48" fill="rgb(79,0,0)"/>
<rect x="407.22" y="298.93" width="11.67" height="11.48" fill="rgb(0,3,9)"/>
<rect x="407.22" y="310.37" width="11.67" height="11.48" fill="rgb(5,67,174)"/>
<rect x="418.84" y="253.20" width="11.67" height="11.48" fill="rgb(2,29,82)"/>
<rect x="418.84" y="264.63" width="11.67" height="11.48" fill="rgb(1,18,53)"/>
<rect x="418.84" y="276.07" width="11.67" height="11.48" fill="rgb(46,0,0)"/>
<rect x="418.84" y="287.50" width="11.67" height="11.48" fill="rgb(55,0,0)"/>
<rect x="418.84" y="298.93" width="11.67" height="11.48" fill="rgb(9,0,0)"/>
<rect x="418.84" y="310.37" width="11.67" height="11.48" fill="rgb(4,63,164)"/>
<rect x="430.45" y="253.20" width="11.67" height="11.48" fill="rgb(2,29,82)"/>
<rect x="430.45" y="264.63" width="11.67" height="11.48" fill="rgb(1,15,43)"/>
<rect x="430.45" y="276.07" width="11.67" height="11.48" fill="rgb(55,0,0)"/>
<rect x="430.45" y="287.50" width="11.67" height="11.48" fill="rgb(83,0,0)"/>
<rect x="430.45" y="298.93" width="11.67" height="11.48" fill="rgb(0,10,29)"/>
<rect x="430.45" y="310.37" width="11.67" height="11.48" fill="rgb(4,63,164)"/>
<rect x="442.07" y="253.20" width="11.67" height="11.48" fill="rgb(2,33,92)"/>
<rect x="442.07" y="264.63" width="11.67" height="11.48" fill="rgb(1,18,53)"/>
<rect x="442.07" y="276.07" width="11.67" height="11.48" fill="rgb(41,0,0)"/>
<rect x="442.07" y="287.50" width="11.67" height="11.48" fill="rgb(83,0,0)"/>
<rect x="442.07" y="298.93" width="11.67" height="11.48" fill="rgb(0,4,14)"/>
<rect x="442.07" y="310.37" width="11.67" height="11.48" fill="rgb(5,67,174)"/>
<rect x="453.68" y="253.20" width="11.67" height="11.48" fill="rgb(230,0,0)"/>
<rect x="453.68" y="264.63" width="11.67" height="11.48" fill="rgb(190,0,0)"/>
<rect x="453.68" y="276.07" width="11.67" height="11.48" fill="rgb(230,0,0)"/>
<rect x="453.68" y="287.50" width="11.67" height="11.48" fill="rgb(250,0,0)"/>
<rect x="453.68" y="298.93" width="11.67" height="11.48" fill="rgb(200,0,0)"/>
<rect x="453.68" y="310.37" width="11.67" height="11.48" fill="rgb(235,0,0)"/>
</g>
<path d="M23.92 253.2V321.8M35.53 253.2V321.8M47.15 253.2V321.8M58.76 253.2V321.8M70.38 253.2V321.8M81.99 253.2V321.8M93.61 253.2V321.8M105.22 253.2V321.8M116.84 253.2V321.8M128.45 253.2V321.8M140.07 253.2V321.8M151.68 253.2V321.8M163.30 253.2V321.8M174.92 253.2V321.8M186.53 253.2V321.8M198.15 253.2V321.8M209.76 253.2V321.8M221.38 253.2V321.8M232.99 253.2V321.8M244.61 253.2V321.8M256.22 253.2V321.8M267.84 253.2V321.8M279.45 253.2V321.8M291.07 253.2V321.8M302.68 253.2V321.8M314.30 253.2V321.8M325.92 253.2V321.8M337.53 253.2V321.8M349.15 253.2V321.8M360.76 253.2V321.8M372.38 253.2V321.8M383.99 253.2V321.8M395.61 253.2V321.8M407.22 253.2V321.8M418.84 253.2V321.8M430.45 253.2V321.8M442.07 253.2V321.8M453.68 253.2V321.8M12.3 264.63H465.3M12.3 276.07H465.3M12.3 287.50H465.3M12.3 298.93H465.3M12.3 310.37H465.3" stroke="#dcd4d6" stroke-opacity="0.88" stroke-width="0.9" fill="none"/>
<g font-size="9.6" fill="#000">
<text transform="translate(19.6 246.9) rotate(-90)">BASO1</text>
<text transform="translate(31.2 246.9) rotate(-90)">BCELLA1</text>
<text transform="translate(42.8 246.9) rotate(-90)">BCELLA2</text>
<text transform="translate(54.5 246.9) rotate(-90)">BCELLA3</text>
<text transform="translate(66.1 246.9) rotate(-90)">BCELLA4</text>
<text transform="translate(77.7 246.9) rotate(-90)">CMP</text>
<text transform="translate(89.3 246.9) rotate(-90)">DENDA1</text>
<text transform="translate(100.9 246.9) rotate(-90)">DENDA2</text>
<text transform="translate(112.5 246.9) rotate(-90)">EOS2</text>
<text transform="translate(124.1 246.9) rotate(-90)">ERY1</text>
<text transform="translate(135.8 246.9) rotate(-90)">ERY2</text>
<text transform="translate(147.4 246.9) rotate(-90)">ERY3</text>
<text transform="translate(159.0 246.9) rotate(-90)">ERY4</text>
<text transform="translate(170.6 246.9) rotate(-90)">ERY5</text>
<text transform="translate(182.2 246.9) rotate(-90)">GMP</text>
<text transform="translate(193.8 246.9) rotate(-90)">GRAN1</text>
<text transform="translate(205.5 246.9) rotate(-90)">GRAN2</text>
<text transform="translate(217.1 246.9) rotate(-90)">GRAN3</text>
<text transform="translate(228.7 246.9) rotate(-90)">HSC1</text>
<text transform="translate(240.3 246.9) rotate(-90)">HSC3</text>
<text transform="translate(251.9 246.9) rotate(-90)">MEGA1</text>
<text transform="translate(263.5 246.9) rotate(-90)">MEGA2</text>
<text transform="translate(275.1 246.9) rotate(-90)">MEP</text>
<text transform="translate(286.8 246.9) rotate(-90)">MONO1</text>
<text transform="translate(298.4 246.9) rotate(-90)">MONO2</text>
<text transform="translate(310.0 246.9) rotate(-90)">NKA1</text>
<text transform="translate(321.6 246.9) rotate(-90)">NKA2</text>
<text transform="translate(333.2 246.9) rotate(-90)">NKA3</text>
<text transform="translate(344.8 246.9) rotate(-90)">NKA4</text>
<text transform="translate(356.5 246.9) rotate(-90)">PRE_BCELL2</text>
<text transform="translate(368.1 246.9) rotate(-90)">PRE_BCELL3</text>
<text transform="translate(379.7 246.9) rotate(-90)">TCELLA1</text>
<text transform="translate(391.3 246.9) rotate(-90)">TCELLA2</text>
<text transform="translate(402.9 246.9) rotate(-90)">TCELLA3</text>
<text transform="translate(414.5 246.9) rotate(-90)">TCELLA4</text>
<text transform="translate(426.1 246.9) rotate(-90)">TCELLA6</text>
<text transform="translate(437.8 246.9) rotate(-90)">TCELLA7</text>
<text transform="translate(449.4 246.9) rotate(-90)">TCELLA8</text>
<text transform="translate(461.0 246.9) rotate(-90)">CD138+ MM CELLS</text>
</g>
<g font-size="9.8" fill="#000">
<text x="469.6" y="262.0">SDC1</text>
<text x="469.6" y="273.5">GPRC5D</text>
<text x="469.6" y="284.9">SLAMF7</text>
<text x="469.6" y="296.3">FKBP11</text>
<text x="469.6" y="307.8">ITGA8</text>
<text x="469.6" y="319.2">TNFRSF17</text>
</g>
<defs><linearGradient id="cb" x1="0" x2="1" y1="0" y2="0"><stop offset="0" stop-color="rgb(2,102,255)"/><stop offset="0.5" stop-color="#000"/><stop offset="1" stop-color="rgb(255,0,0)"/></linearGradient></defs>
<rect x="12.3" y="334.7" width="451.7" height="10.9" fill="url(#cb)"/>
<g font-size="9.6" fill="#000" text-anchor="middle"><text x="12.2" y="355.4">-3.00</text><text x="238.6" y="355.4">0.00</text><text x="464.4" y="355.4">3.00</text></g>
</svg>
</body></html>
